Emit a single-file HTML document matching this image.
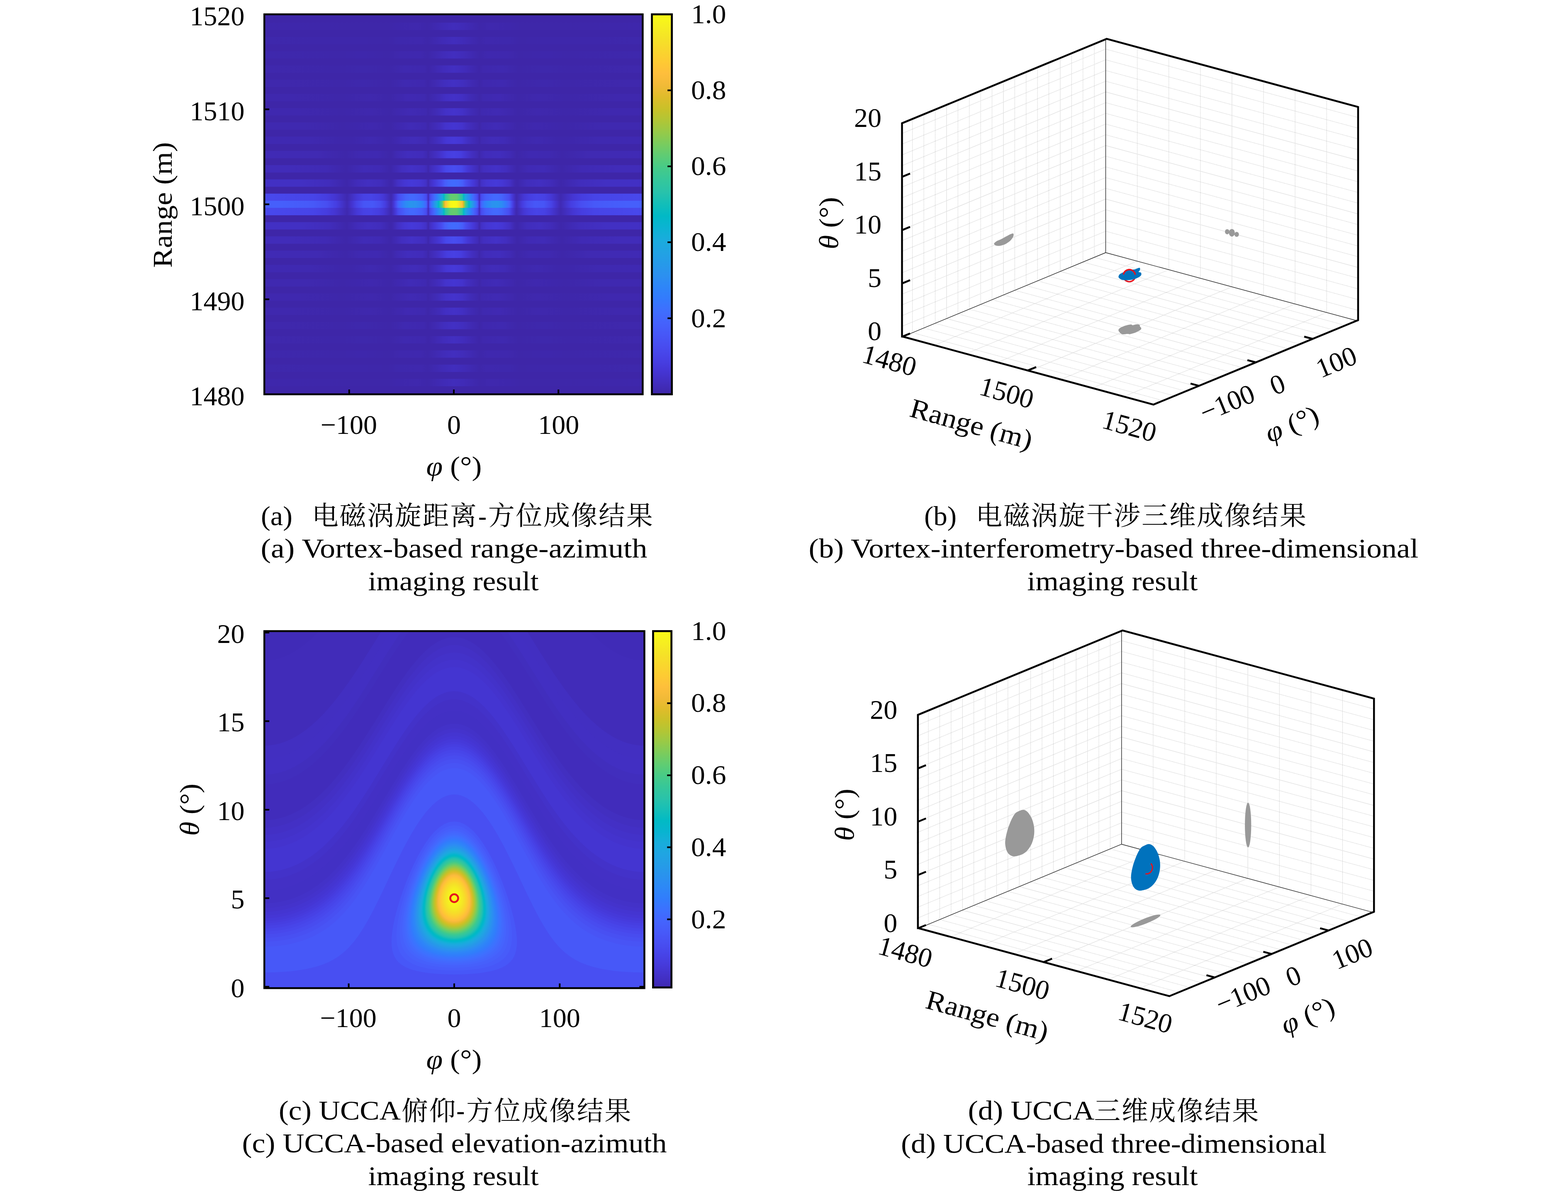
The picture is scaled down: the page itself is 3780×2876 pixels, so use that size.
<!DOCTYPE html>
<html lang="zh"><head><meta charset="utf-8"><title>Vortex and UCCA imaging results</title><style>html,body{margin:0;padding:0;background:#fff}svg{display:block}</style></head><body><svg width="3780" height="2876" viewBox="0 0 3780 2876" font-family="'Liberation Serif', serif" font-size="66" text-anchor="middle" fill="#000"><defs><clipPath id="clipa"><rect x="637.2" y="34.5" width="912.1" height="916"/></clipPath><linearGradient id="a27" gradientUnits="userSpaceOnUse" x1="1094" x2="1550.5" y1="0" y2="0" spreadMethod="reflect"><stop offset="0" stop-color="#412cba"/><stop offset="0.0552" stop-color="#402ab5"/><stop offset="0.1381" stop-color="#3e27aa"/><stop offset="0.2155" stop-color="#3f28ae"/><stop offset="0.3149" stop-color="#3e27aa"/><stop offset="0.8315" stop-color="#3e27ab"/><stop offset="1" stop-color="#3e27ac"/></linearGradient><linearGradient id="a25" gradientUnits="userSpaceOnUse" x1="1094" x2="1550.5" y1="0" y2="0" spreadMethod="reflect"><stop offset="0" stop-color="#412dbb"/><stop offset="0.0497" stop-color="#402bb7"/><stop offset="0.1381" stop-color="#3e27aa"/><stop offset="0.1934" stop-color="#3f28ae"/><stop offset="0.2983" stop-color="#3e27ac"/><stop offset="0.3481" stop-color="#3e27a9"/><stop offset="0.5387" stop-color="#3e27a9"/><stop offset="1" stop-color="#3e27ac"/></linearGradient><linearGradient id="a23" gradientUnits="userSpaceOnUse" x1="1094" x2="1550.5" y1="0" y2="0" spreadMethod="reflect"><stop offset="0" stop-color="#412dbd"/><stop offset="0.0552" stop-color="#402bb7"/><stop offset="0.1381" stop-color="#3e27aa"/><stop offset="0.1713" stop-color="#3f28ae"/><stop offset="0.2928" stop-color="#3e28ad"/><stop offset="0.3481" stop-color="#3e27a9"/><stop offset="0.4807" stop-color="#3e27ab"/><stop offset="0.7044" stop-color="#3e27ab"/><stop offset="1" stop-color="#3e28ac"/></linearGradient><linearGradient id="a21" gradientUnits="userSpaceOnUse" x1="1094" x2="1550.5" y1="0" y2="0" spreadMethod="reflect"><stop offset="0" stop-color="#422ebf"/><stop offset="0.0525" stop-color="#412cb9"/><stop offset="0.1381" stop-color="#3e27aa"/><stop offset="0.1796" stop-color="#3f28af"/><stop offset="0.2818" stop-color="#3f28ae"/><stop offset="0.3453" stop-color="#3e27a9"/><stop offset="0.4862" stop-color="#3e27ac"/><stop offset="0.6022" stop-color="#3e27aa"/><stop offset="1" stop-color="#3e28ad"/></linearGradient><linearGradient id="a19" gradientUnits="userSpaceOnUse" x1="1094" x2="1550.5" y1="0" y2="0" spreadMethod="reflect"><stop offset="0" stop-color="#422fc1"/><stop offset="0.0525" stop-color="#412cbb"/><stop offset="0.1354" stop-color="#3e26a9"/><stop offset="0.1547" stop-color="#3f28ae"/><stop offset="0.2597" stop-color="#3f29b0"/><stop offset="0.3425" stop-color="#3e27a9"/><stop offset="0.4751" stop-color="#3e28ac"/><stop offset="0.616" stop-color="#3e27aa"/><stop offset="1" stop-color="#3f28ad"/></linearGradient><linearGradient id="a17" gradientUnits="userSpaceOnUse" x1="1094" x2="1550.5" y1="0" y2="0" spreadMethod="reflect"><stop offset="0" stop-color="#4230c4"/><stop offset="0.0497" stop-color="#412ebe"/><stop offset="0.0939" stop-color="#402ab3"/><stop offset="0.1298" stop-color="#3e27ac"/><stop offset="0.1354" stop-color="#3e26a9"/><stop offset="0.1575" stop-color="#3f28af"/><stop offset="0.2569" stop-color="#3f29b1"/><stop offset="0.3398" stop-color="#3e27a9"/><stop offset="0.4779" stop-color="#3e28ad"/><stop offset="0.5856" stop-color="#3e27aa"/><stop offset="0.9337" stop-color="#3f28ad"/><stop offset="1" stop-color="#3f28ad"/></linearGradient><linearGradient id="a15" gradientUnits="userSpaceOnUse" x1="1094" x2="1550.5" y1="0" y2="0" spreadMethod="reflect"><stop offset="0" stop-color="#4331c7"/><stop offset="0.0442" stop-color="#422fc3"/><stop offset="0.0801" stop-color="#402bb7"/><stop offset="0.1298" stop-color="#3e28ac"/><stop offset="0.1354" stop-color="#3e27a9"/><stop offset="0.1547" stop-color="#3f29b0"/><stop offset="0.2431" stop-color="#4029b3"/><stop offset="0.3398" stop-color="#3e27a9"/><stop offset="0.4448" stop-color="#3f28ae"/><stop offset="0.5884" stop-color="#3e27aa"/><stop offset="0.8812" stop-color="#3f28ae"/><stop offset="1" stop-color="#3f28ae"/></linearGradient><linearGradient id="a13" gradientUnits="userSpaceOnUse" x1="1094" x2="1550.5" y1="0" y2="0" spreadMethod="reflect"><stop offset="0" stop-color="#4433cc"/><stop offset="0.0442" stop-color="#4331c7"/><stop offset="0.0856" stop-color="#402cb8"/><stop offset="0.1298" stop-color="#3f28ad"/><stop offset="0.1354" stop-color="#3e27a9"/><stop offset="0.1464" stop-color="#3f29b0"/><stop offset="0.2293" stop-color="#402ab4"/><stop offset="0.3011" stop-color="#3f28ae"/><stop offset="0.337" stop-color="#3e27a9"/><stop offset="0.4392" stop-color="#3f28ae"/><stop offset="0.5939" stop-color="#3e27aa"/><stop offset="0.8287" stop-color="#3f28af"/><stop offset="1" stop-color="#3f28af"/></linearGradient><linearGradient id="a11" gradientUnits="userSpaceOnUse" x1="1094" x2="1550.5" y1="0" y2="0" spreadMethod="reflect"><stop offset="0" stop-color="#4435d2"/><stop offset="0.0442" stop-color="#4433cc"/><stop offset="0.0691" stop-color="#422ec0"/><stop offset="0.1298" stop-color="#3f28ae"/><stop offset="0.1354" stop-color="#3e27a9"/><stop offset="0.1492" stop-color="#3f29b2"/><stop offset="0.2265" stop-color="#402bb7"/><stop offset="0.3011" stop-color="#3f28af"/><stop offset="0.3343" stop-color="#3e27a9"/><stop offset="0.4337" stop-color="#3f28af"/><stop offset="0.5276" stop-color="#3e27ac"/><stop offset="0.5884" stop-color="#3e27aa"/><stop offset="0.7873" stop-color="#3f29b0"/><stop offset="1" stop-color="#3f29b0"/></linearGradient><linearGradient id="a9" gradientUnits="userSpaceOnUse" x1="1094" x2="1550.5" y1="0" y2="0" spreadMethod="reflect"><stop offset="0" stop-color="#4639d9"/><stop offset="0.0414" stop-color="#4536d4"/><stop offset="0.0718" stop-color="#4230c4"/><stop offset="0.1298" stop-color="#3f28af"/><stop offset="0.1354" stop-color="#3e27a9"/><stop offset="0.1464" stop-color="#402ab3"/><stop offset="0.2044" stop-color="#412cb9"/><stop offset="0.2652" stop-color="#402bb7"/><stop offset="0.3066" stop-color="#3f28af"/><stop offset="0.337" stop-color="#3e27aa"/><stop offset="0.4392" stop-color="#3f29b1"/><stop offset="0.547" stop-color="#3e27ab"/><stop offset="0.5967" stop-color="#3e27ab"/><stop offset="0.7624" stop-color="#3f29b1"/><stop offset="1" stop-color="#3f29b2"/></linearGradient><linearGradient id="a7" gradientUnits="userSpaceOnUse" x1="1094" x2="1550.5" y1="0" y2="0" spreadMethod="reflect"><stop offset="0" stop-color="#4740e3"/><stop offset="0.0359" stop-color="#463ddf"/><stop offset="0.0525" stop-color="#4538d7"/><stop offset="0.0856" stop-color="#4330c5"/><stop offset="0.1271" stop-color="#402ab3"/><stop offset="0.1354" stop-color="#3e27a9"/><stop offset="0.1409" stop-color="#3f29b2"/><stop offset="0.1657" stop-color="#412cbb"/><stop offset="0.2431" stop-color="#412dbd"/><stop offset="0.2983" stop-color="#402ab4"/><stop offset="0.3315" stop-color="#3e27a9"/><stop offset="0.4061" stop-color="#3f29b2"/><stop offset="0.5" stop-color="#3f29b1"/><stop offset="0.5718" stop-color="#3e27aa"/><stop offset="0.7238" stop-color="#402ab3"/><stop offset="1" stop-color="#402ab5"/></linearGradient><linearGradient id="a5" gradientUnits="userSpaceOnUse" x1="1094" x2="1550.5" y1="0" y2="0" spreadMethod="reflect"><stop offset="0" stop-color="#484df0"/><stop offset="0.0414" stop-color="#4747eb"/><stop offset="0.0746" stop-color="#4537d6"/><stop offset="0.1243" stop-color="#412cba"/><stop offset="0.1298" stop-color="#402ab5"/><stop offset="0.1354" stop-color="#3e27aa"/><stop offset="0.1409" stop-color="#402bb6"/><stop offset="0.1575" stop-color="#422ebf"/><stop offset="0.2238" stop-color="#4331c7"/><stop offset="0.2762" stop-color="#422ebf"/><stop offset="0.3066" stop-color="#402ab4"/><stop offset="0.3343" stop-color="#3e27aa"/><stop offset="0.395" stop-color="#402ab5"/><stop offset="0.4751" stop-color="#402bb7"/><stop offset="0.5691" stop-color="#3e27aa"/><stop offset="0.6768" stop-color="#402ab5"/><stop offset="0.8812" stop-color="#412cb9"/><stop offset="1" stop-color="#412cb9"/></linearGradient><linearGradient id="a3" gradientUnits="userSpaceOnUse" x1="1094" x2="1550.5" y1="0" y2="0" spreadMethod="reflect"><stop offset="0" stop-color="#416bfe"/><stop offset="0.0249" stop-color="#4368fd"/><stop offset="0.047" stop-color="#475dfa"/><stop offset="0.0635" stop-color="#484df0"/><stop offset="0.105" stop-color="#4537d7"/><stop offset="0.1243" stop-color="#4330c5"/><stop offset="0.1298" stop-color="#412dbc"/><stop offset="0.1354" stop-color="#3e27ab"/><stop offset="0.1381" stop-color="#402bb7"/><stop offset="0.1464" stop-color="#4331c7"/><stop offset="0.174" stop-color="#4536d3"/><stop offset="0.2238" stop-color="#4539d9"/><stop offset="0.2569" stop-color="#4536d4"/><stop offset="0.2956" stop-color="#4330c5"/><stop offset="0.3232" stop-color="#3f28af"/><stop offset="0.3343" stop-color="#3e27ac"/><stop offset="0.3867" stop-color="#412dbc"/><stop offset="0.453" stop-color="#422fc1"/><stop offset="0.5083" stop-color="#412cba"/><stop offset="0.5663" stop-color="#3e27ab"/><stop offset="0.663" stop-color="#412dbc"/><stop offset="0.8039" stop-color="#4230c3"/><stop offset="1" stop-color="#4230c4"/></linearGradient><linearGradient id="a1" gradientUnits="userSpaceOnUse" x1="1094" x2="1550.5" y1="0" y2="0" spreadMethod="reflect"><stop offset="0" stop-color="#65cd6e"/><stop offset="0.0166" stop-color="#60cd72"/><stop offset="0.0359" stop-color="#37c897"/><stop offset="0.0442" stop-color="#2cc4a6"/><stop offset="0.047" stop-color="#1fc0b2"/><stop offset="0.0497" stop-color="#0bbdbc"/><stop offset="0.0525" stop-color="#01b9c7"/><stop offset="0.0552" stop-color="#08b4d1"/><stop offset="0.058" stop-color="#16afd9"/><stop offset="0.0635" stop-color="#20a5e3"/><stop offset="0.0829" stop-color="#2e87f7"/><stop offset="0.0912" stop-color="#327bfc"/><stop offset="0.1022" stop-color="#426afe"/><stop offset="0.1188" stop-color="#4853f5"/><stop offset="0.1243" stop-color="#484aee"/><stop offset="0.1298" stop-color="#463cdf"/><stop offset="0.1326" stop-color="#4230c4"/><stop offset="0.1354" stop-color="#3f29b0"/><stop offset="0.1381" stop-color="#4435d1"/><stop offset="0.1409" stop-color="#473fe2"/><stop offset="0.1464" stop-color="#484df0"/><stop offset="0.1685" stop-color="#465dfb"/><stop offset="0.2099" stop-color="#4369fe"/><stop offset="0.232" stop-color="#4369fe"/><stop offset="0.2541" stop-color="#4563fc"/><stop offset="0.2873" stop-color="#4850f3"/><stop offset="0.2956" stop-color="#4849ed"/><stop offset="0.3066" stop-color="#463adb"/><stop offset="0.326" stop-color="#402bb8"/><stop offset="0.3315" stop-color="#3f29b0"/><stop offset="0.3702" stop-color="#4537d5"/><stop offset="0.3978" stop-color="#463ee1"/><stop offset="0.4365" stop-color="#4743e7"/><stop offset="0.4779" stop-color="#4741e4"/><stop offset="0.511" stop-color="#4538d7"/><stop offset="0.5635" stop-color="#3f29b0"/><stop offset="0.6298" stop-color="#4536d3"/><stop offset="0.674" stop-color="#463de0"/><stop offset="0.7431" stop-color="#4744e8"/><stop offset="0.9751" stop-color="#4848ec"/><stop offset="1" stop-color="#4848ec"/></linearGradient><linearGradient id="a0" gradientUnits="userSpaceOnUse" x1="1094" x2="1550.5" y1="0" y2="0" spreadMethod="reflect"><stop offset="0" stop-color="#f9fb15"/><stop offset="0.0166" stop-color="#f8f719"/><stop offset="0.0276" stop-color="#f5e526"/><stop offset="0.0442" stop-color="#fec13a"/><stop offset="0.047" stop-color="#f1ba37"/><stop offset="0.0497" stop-color="#d9be28"/><stop offset="0.0525" stop-color="#bdc42f"/><stop offset="0.0552" stop-color="#9cc944"/><stop offset="0.0608" stop-color="#58cc79"/><stop offset="0.0635" stop-color="#46cb88"/><stop offset="0.0691" stop-color="#30c5a1"/><stop offset="0.0746" stop-color="#1ac0b5"/><stop offset="0.0773" stop-color="#0abdbd"/><stop offset="0.0801" stop-color="#01b9c6"/><stop offset="0.0829" stop-color="#05b6ce"/><stop offset="0.0884" stop-color="#17aeda"/><stop offset="0.0994" stop-color="#269ae8"/><stop offset="0.1133" stop-color="#317efb"/><stop offset="0.1215" stop-color="#416bfe"/><stop offset="0.1271" stop-color="#4757f7"/><stop offset="0.1298" stop-color="#484cf0"/><stop offset="0.1326" stop-color="#4536d3"/><stop offset="0.1354" stop-color="#402ab4"/><stop offset="0.1381" stop-color="#473fe3"/><stop offset="0.1409" stop-color="#4851f3"/><stop offset="0.1464" stop-color="#4367fd"/><stop offset="0.1602" stop-color="#347afd"/><stop offset="0.1713" stop-color="#2e84f8"/><stop offset="0.2044" stop-color="#2b92ef"/><stop offset="0.2293" stop-color="#2994ed"/><stop offset="0.2541" stop-color="#2d8bf4"/><stop offset="0.2735" stop-color="#347afd"/><stop offset="0.2901" stop-color="#4269fe"/><stop offset="0.2956" stop-color="#4661fc"/><stop offset="0.3066" stop-color="#4849ed"/><stop offset="0.3177" stop-color="#4536d5"/><stop offset="0.3232" stop-color="#4331c6"/><stop offset="0.3315" stop-color="#402ab4"/><stop offset="0.3619" stop-color="#463de0"/><stop offset="0.3867" stop-color="#484cef"/><stop offset="0.4282" stop-color="#4757f7"/><stop offset="0.4751" stop-color="#4755f6"/><stop offset="0.5138" stop-color="#4743e7"/><stop offset="0.5387" stop-color="#4434d0"/><stop offset="0.5635" stop-color="#402ab4"/><stop offset="0.6188" stop-color="#463ee1"/><stop offset="0.6713" stop-color="#484ef1"/><stop offset="0.7431" stop-color="#4759f8"/><stop offset="0.9088" stop-color="#465ffb"/><stop offset="1" stop-color="#465ffb"/></linearGradient><linearGradient id="cba" x1="0" y1="0" x2="0" y2="1"><stop offset="0" stop-color="#f9fb15"/><stop offset="0.0312" stop-color="#f6ef20"/><stop offset="0.0625" stop-color="#f5e327"/><stop offset="0.0938" stop-color="#f9d62d"/><stop offset="0.125" stop-color="#feca33"/><stop offset="0.1562" stop-color="#febe3c"/><stop offset="0.1875" stop-color="#f1ba37"/><stop offset="0.2188" stop-color="#debc2a"/><stop offset="0.25" stop-color="#c8c129"/><stop offset="0.2812" stop-color="#afc637"/><stop offset="0.3125" stop-color="#94ca4a"/><stop offset="0.3438" stop-color="#77cc60"/><stop offset="0.375" stop-color="#5ccc76"/><stop offset="0.4062" stop-color="#44ca8a"/><stop offset="0.4375" stop-color="#34c79c"/><stop offset="0.4688" stop-color="#28c2ab"/><stop offset="0.5" stop-color="#12beb9"/><stop offset="0.5312" stop-color="#01b9c6"/><stop offset="0.5625" stop-color="#0cb3d3"/><stop offset="0.5938" stop-color="#1aacdd"/><stop offset="0.625" stop-color="#21a3e3"/><stop offset="0.6562" stop-color="#269ae9"/><stop offset="0.6875" stop-color="#2c90f0"/><stop offset="0.7188" stop-color="#2e85f8"/><stop offset="0.75" stop-color="#347afd"/><stop offset="0.7812" stop-color="#3f6efe"/><stop offset="0.8125" stop-color="#4562fc"/><stop offset="0.8438" stop-color="#4757f7"/><stop offset="0.875" stop-color="#484cef"/><stop offset="0.9062" stop-color="#4741e5"/><stop offset="0.9375" stop-color="#4536d5"/><stop offset="0.9688" stop-color="#422ebf"/><stop offset="1" stop-color="#3e26a8"/></linearGradient><clipPath id="clipc"><rect x="637.2" y="1521.5" width="916.2" height="860.7"/></clipPath><linearGradient id="cbc" x1="0" y1="0" x2="0" y2="1"><stop offset="0" stop-color="#f9fb15"/><stop offset="0.0312" stop-color="#f6ef20"/><stop offset="0.0625" stop-color="#f5e327"/><stop offset="0.0938" stop-color="#f9d72d"/><stop offset="0.125" stop-color="#fdcb33"/><stop offset="0.1562" stop-color="#febf3b"/><stop offset="0.1875" stop-color="#f2ba38"/><stop offset="0.2188" stop-color="#e0bc2a"/><stop offset="0.25" stop-color="#cac129"/><stop offset="0.2812" stop-color="#b2c635"/><stop offset="0.3125" stop-color="#97ca48"/><stop offset="0.3438" stop-color="#7acc5d"/><stop offset="0.375" stop-color="#5fcd73"/><stop offset="0.4062" stop-color="#47cb87"/><stop offset="0.4375" stop-color="#36c799"/><stop offset="0.4688" stop-color="#2ac3a9"/><stop offset="0.5" stop-color="#17bfb7"/><stop offset="0.5312" stop-color="#02bac4"/><stop offset="0.5625" stop-color="#08b4d0"/><stop offset="0.5938" stop-color="#18addb"/><stop offset="0.625" stop-color="#20a5e2"/><stop offset="0.6562" stop-color="#259ce7"/><stop offset="0.6875" stop-color="#2a92ee"/><stop offset="0.7188" stop-color="#2d88f6"/><stop offset="0.75" stop-color="#317dfc"/><stop offset="0.7812" stop-color="#3c71ff"/><stop offset="0.8125" stop-color="#4465fd"/><stop offset="0.8438" stop-color="#475af9"/><stop offset="0.875" stop-color="#484ff2"/><stop offset="0.9062" stop-color="#4744e8"/><stop offset="0.9375" stop-color="#463ada"/><stop offset="0.9688" stop-color="#4331c7"/><stop offset="1" stop-color="#3f29b1"/></linearGradient></defs>
<g clip-path="url(#clipa)">
<rect x="637.2" y="34.5" width="912.1" height="916" fill="#3e26a8"/>
<rect x="637.2" y="20.24" width="912.1" height="17.77" fill="url(#a27)"/>
<rect x="637.2" y="54.59" width="912.1" height="17.77" fill="url(#a25)"/>
<rect x="637.2" y="88.94" width="912.1" height="17.77" fill="url(#a23)"/>
<rect x="637.2" y="123.29" width="912.1" height="17.77" fill="url(#a21)"/>
<rect x="637.2" y="157.64" width="912.1" height="17.77" fill="url(#a19)"/>
<rect x="637.2" y="191.99" width="912.1" height="17.77" fill="url(#a17)"/>
<rect x="637.2" y="226.34" width="912.1" height="17.77" fill="url(#a15)"/>
<rect x="637.2" y="260.69" width="912.1" height="17.77" fill="url(#a13)"/>
<rect x="637.2" y="295.04" width="912.1" height="17.77" fill="url(#a11)"/>
<rect x="637.2" y="329.39" width="912.1" height="17.77" fill="url(#a9)"/>
<rect x="637.2" y="363.74" width="912.1" height="17.77" fill="url(#a7)"/>
<rect x="637.2" y="398.09" width="912.1" height="17.77" fill="url(#a5)"/>
<rect x="637.2" y="432.44" width="912.1" height="17.77" fill="url(#a3)"/>
<rect x="637.2" y="466.79" width="912.1" height="17.77" fill="url(#a1)"/>
<rect x="637.2" y="483.96" width="912.1" height="17.77" fill="url(#a0)"/>
<rect x="637.2" y="501.14" width="912.1" height="17.77" fill="url(#a1)"/>
<rect x="637.2" y="535.49" width="912.1" height="17.77" fill="url(#a3)"/>
<rect x="637.2" y="569.84" width="912.1" height="17.77" fill="url(#a5)"/>
<rect x="637.2" y="604.19" width="912.1" height="17.77" fill="url(#a7)"/>
<rect x="637.2" y="638.54" width="912.1" height="17.77" fill="url(#a9)"/>
<rect x="637.2" y="672.89" width="912.1" height="17.77" fill="url(#a11)"/>
<rect x="637.2" y="707.24" width="912.1" height="17.77" fill="url(#a13)"/>
<rect x="637.2" y="741.59" width="912.1" height="17.77" fill="url(#a15)"/>
<rect x="637.2" y="775.94" width="912.1" height="17.77" fill="url(#a17)"/>
<rect x="637.2" y="810.29" width="912.1" height="17.77" fill="url(#a19)"/>
<rect x="637.2" y="844.64" width="912.1" height="17.77" fill="url(#a21)"/>
<rect x="637.2" y="878.99" width="912.1" height="17.77" fill="url(#a23)"/>
<rect x="637.2" y="913.34" width="912.1" height="17.77" fill="url(#a25)"/>
<rect x="637.2" y="947.69" width="912.1" height="17.77" fill="url(#a27)"/>
</g>
<rect x="637.25" y="34.55" width="912.1" height="916" fill="none" stroke="#000" stroke-width="4.5"/>
<path d="M841.8 950.5v-11.5M1094 950.5v-11.5M1346.2 950.5v-11.5M637.2 721.5h12M637.2 492.5h12M637.2 263.5h12" stroke="#000" stroke-width="4" fill="none"/>
<text x="589.5" y="976.5" text-anchor="end">1480</text>
<text x="589.5" y="747.5" text-anchor="end">1490</text>
<text x="589.5" y="518.5" text-anchor="end">1500</text>
<text x="589.5" y="289.5" text-anchor="end">1510</text>
<text x="589.5" y="60.5" text-anchor="end">1520</text>
<text x="840.8" y="1046">−100</text>
<text x="1094.5" y="1046">0</text>
<text x="1346.7" y="1046">100</text>
<text x="413.8" y="494" transform="rotate(-90 413.8 494)" textLength="303" lengthAdjust="spacingAndGlyphs">Range (m)</text>
<text x="1094.5" y="1146" textLength="134" lengthAdjust="spacingAndGlyphs"><tspan font-style="italic">φ</tspan> (°)</text>
<rect x="1571.55" y="34.55" width="48.1" height="916" fill="url(#cba)" stroke="#000" stroke-width="4.7"/>
<text x="1666" y="788.5" textLength="84.5" lengthAdjust="spacingAndGlyphs" text-anchor="start">0.2</text>
<text x="1666" y="605.3" textLength="84.5" lengthAdjust="spacingAndGlyphs" text-anchor="start">0.4</text>
<text x="1666" y="422.1" textLength="84.5" lengthAdjust="spacingAndGlyphs" text-anchor="start">0.6</text>
<text x="1666" y="238.9" textLength="84.5" lengthAdjust="spacingAndGlyphs" text-anchor="start">0.8</text>
<text x="1666" y="55.7" textLength="84.5" lengthAdjust="spacingAndGlyphs" text-anchor="start">1.0</text>
<path d="M1619.7 767.3h-10.5M1619.7 584.1h-10.5M1619.7 400.9h-10.5M1619.7 217.7h-10.5" stroke="#000" stroke-width="4" fill="none"/>
<g clip-path="url(#clipc)">
<rect x="637.2" y="1521.5" width="916.2" height="860.7" fill="#402bb7"/>
<g id="hc"><path fill="#402bb7" d="M1095 1021L1102.6 1021.4L1110.3 1022.7L1117.9 1024.7L1125.5 1027.6L1133.2 1031.2L1140.8 1035.7L1148.4 1040.8L1156 1046.8L1163.7 1053.4L1171.3 1060.7L1178.9 1068.6L1186.6 1077.2L1194.2 1086.3L1201.8 1095.9L1209.5 1106.1L1217.1 1116.7L1224.7 1127.7L1232.3 1139.1L1240 1150.8L1247.6 1162.8L1260.3 1183.2L1273 1204.2L1285.8 1225.3L1298.5 1246.6L1311.2 1267.7L1323.9 1288.5L1336.6 1308.9L1349.3 1328.6L1362.1 1347.7L1374.8 1365.9L1387.5 1383.2L1400.2 1399.5L1412.9 1414.7L1425.7 1428.7L1438.4 1441.5L1451.1 1453L1463.8 1463.3L1476.5 1472.2L1489.2 1479.8L1502 1486L1514.7 1490.9L1527.4 1494.3L1540.1 1496.4L1552.8 1497.1L1556.6 1497.1V2384.2H1095z"/><path fill="#412cb9" d="M1095 1125.2L1102.6 1125.6L1110.3 1126.8L1117.9 1128.8L1125.5 1131.7L1133.2 1135.3L1140.8 1139.7L1148.4 1144.8L1156 1150.6L1163.7 1157.2L1171.3 1164.4L1178.9 1172.3L1186.6 1180.7L1194.2 1189.8L1201.8 1199.3L1209.5 1209.3L1217.1 1219.8L1224.7 1230.7L1232.3 1241.9L1240 1253.5L1247.6 1265.3L1260.3 1285.5L1273 1306.1L1285.8 1327L1298.5 1347.9L1311.2 1368.6L1323.9 1389.1L1336.6 1409.1L1349.3 1428.5L1362.1 1447.1L1374.8 1464.9L1387.5 1481.8L1400.2 1497.7L1412.9 1512.4L1425.7 1526L1438.4 1538.5L1451.1 1549.7L1463.8 1559.6L1476.5 1568.2L1489.2 1575.5L1502 1581.6L1514.7 1586.2L1527.4 1589.6L1540.1 1591.6L1552.8 1592.3L1556.6 1592.2V2384.2H1095z"/><path fill="#422fc1" d="M1095 1346.2L1102.6 1346.6L1110.3 1347.8L1117.9 1349.8L1125.5 1352.7L1133.2 1356.3L1140.8 1360.6L1148.4 1365.8L1156 1371.6L1163.7 1378.1L1171.3 1385.3L1178.9 1393.1L1186.6 1401.5L1194.2 1410.5L1201.8 1420L1209.5 1430L1217.1 1440.4L1224.7 1451.1L1232.3 1462.3L1240 1473.7L1247.6 1485.4L1260.3 1505.3L1273 1525.5L1285.8 1546L1298.5 1566.4L1311.2 1586.6L1323.9 1606.4L1336.6 1625.7L1349.3 1644.3L1362.1 1662.1L1374.8 1679.1L1387.5 1695.1L1400.2 1710L1412.9 1723.9L1425.7 1736.6L1438.4 1748.1L1451.1 1758.5L1463.8 1767.6L1476.5 1775.6L1489.2 1782.3L1502 1787.8L1514.7 1792.1L1527.4 1795.1L1540.1 1796.9L1552.8 1797.5L1556.6 1797.5V2384.2H1095z"/><path fill="#422fc2" d="M1095 1380.7L1102.6 1381.1L1110.3 1382.4L1117.9 1384.4L1125.5 1387.2L1133.2 1390.8L1140.8 1395.2L1148.4 1400.3L1156 1406.2L1163.7 1412.7L1171.3 1419.9L1178.9 1427.8L1186.6 1436.2L1194.2 1445.2L1201.8 1454.7L1209.5 1464.7L1217.1 1475.1L1224.7 1485.9L1232.3 1497L1240 1508.4L1247.6 1520.1L1260.3 1540L1273 1560.3L1285.8 1580.7L1298.5 1601L1311.2 1621.1L1323.9 1640.9L1336.6 1660.1L1349.3 1678.6L1362.1 1696.3L1374.8 1713.1L1387.5 1728.9L1400.2 1743.7L1412.9 1757.4L1425.7 1770L1438.4 1781.4L1451.1 1791.6L1463.8 1800.6L1476.5 1808.4L1489.2 1815L1502 1820.4L1514.7 1824.6L1527.4 1827.6L1540.1 1829.4L1552.8 1830L1556.6 1829.9V2384.2H1095z"/><path fill="#412ebd" d="M1095 1420.6L1102.6 1421L1110.3 1422.2L1117.9 1424.3L1125.5 1427.1L1133.2 1430.7L1140.8 1435.1L1148.4 1440.3L1156 1446.1L1163.7 1452.7L1171.3 1459.9L1178.9 1467.8L1186.6 1476.3L1194.2 1485.3L1201.8 1494.8L1209.5 1504.8L1217.1 1515.3L1224.7 1526.1L1232.3 1537.2L1240 1548.7L1247.6 1560.4L1260.3 1580.3L1273 1600.5L1285.8 1620.9L1298.5 1641.2L1311.2 1661.3L1323.9 1680.9L1336.6 1700L1349.3 1718.4L1362.1 1736L1374.8 1752.6L1387.5 1768.3L1400.2 1782.9L1412.9 1796.4L1425.7 1808.8L1438.4 1820L1451.1 1830L1463.8 1838.8L1476.5 1846.5L1489.2 1853L1502 1858.2L1514.7 1862.3L1527.4 1865.3L1540.1 1867L1552.8 1867.6L1556.6 1867.5V2384.2H1095z"/><path fill="#412cbb" d="M1095 1445.5L1102.6 1445.9L1110.3 1447.1L1117.9 1449.2L1125.5 1452L1133.2 1455.7L1140.8 1460.1L1148.4 1465.2L1156 1471.1L1163.7 1477.7L1171.3 1485L1178.9 1492.8L1186.6 1501.3L1194.2 1510.4L1201.8 1519.9L1209.5 1530L1217.1 1540.4L1224.7 1551.3L1232.3 1562.4L1240 1573.9L1247.6 1585.6L1260.3 1605.5L1273 1625.8L1285.8 1646.2L1298.5 1666.5L1311.2 1686.5L1323.9 1706.1L1336.6 1725.1L1349.3 1743.4L1362.1 1760.9L1374.8 1777.4L1387.5 1793L1400.2 1807.5L1412.9 1820.8L1425.7 1833.1L1438.4 1844.2L1451.1 1854.1L1463.8 1862.8L1476.5 1870.3L1489.2 1876.7L1502 1881.9L1514.7 1886L1527.4 1888.8L1540.1 1890.6L1552.8 1891.1L1556.6 1891.1V2384.2H1095z"/><path fill="#422fc0" d="M1095 1535.9L1102.6 1536.3L1110.3 1537.6L1117.9 1539.7L1125.5 1542.6L1133.2 1546.3L1140.8 1550.8L1148.4 1556L1156 1562L1163.7 1568.7L1171.3 1576.1L1178.9 1584.1L1186.6 1592.7L1194.2 1601.9L1201.8 1611.6L1209.5 1621.7L1217.1 1632.3L1224.7 1643.3L1232.3 1654.6L1240 1666.2L1247.6 1678L1260.3 1698.1L1273 1718.4L1285.8 1738.9L1298.5 1759.1L1311.2 1779.1L1323.9 1798.5L1336.6 1817.3L1349.3 1835.3L1362.1 1852.5L1374.8 1868.6L1387.5 1883.7L1400.2 1897.7L1412.9 1910.5L1425.7 1922.3L1438.4 1932.8L1451.1 1942.2L1463.8 1950.5L1476.5 1957.6L1489.2 1963.6L1502 1968.5L1514.7 1972.3L1527.4 1975L1540.1 1976.6L1552.8 1977.1L1556.6 1977.1V2384.2H1095z"/><path fill="#4330c5" d="M1095 1554.9L1102.6 1555.4L1110.3 1556.6L1117.9 1558.7L1125.5 1561.6L1133.2 1565.3L1140.8 1569.9L1148.4 1575.1L1156 1581.2L1163.7 1587.9L1171.3 1595.3L1178.9 1603.3L1186.6 1612L1194.2 1621.2L1201.8 1630.9L1209.5 1641.2L1217.1 1651.8L1224.7 1662.8L1232.3 1674.2L1240 1685.8L1247.6 1697.6L1260.3 1717.8L1273 1738.1L1285.8 1758.6L1298.5 1778.9L1311.2 1798.8L1323.9 1818.2L1336.6 1837L1349.3 1854.9L1362.1 1872L1374.8 1888L1387.5 1903L1400.2 1916.9L1412.9 1929.6L1425.7 1941.2L1438.4 1951.6L1451.1 1960.9L1463.8 1969.1L1476.5 1976.1L1489.2 1982L1502 1986.8L1514.7 1990.5L1527.4 1993.2L1540.1 1994.7L1552.8 1995.3L1556.6 1995.2V2384.2H1095z"/><path fill="#4332c9" d="M1095 1573L1102.6 1573.4L1110.3 1574.7L1117.9 1576.8L1125.5 1579.7L1133.2 1583.5L1140.8 1588L1148.4 1593.3L1156 1599.4L1163.7 1606.1L1171.3 1613.6L1178.9 1621.7L1186.6 1630.3L1194.2 1639.6L1201.8 1649.4L1209.5 1659.6L1217.1 1670.3L1224.7 1681.4L1232.3 1692.8L1240 1704.4L1247.6 1716.3L1260.3 1736.5L1273 1756.9L1285.8 1777.4L1298.5 1797.7L1311.2 1817.7L1323.9 1837L1336.6 1855.7L1349.3 1873.6L1362.1 1890.6L1374.8 1906.5L1387.5 1921.4L1400.2 1935.2L1412.9 1947.8L1425.7 1959.3L1438.4 1969.6L1451.1 1978.7L1463.8 1986.8L1476.5 1993.7L1489.2 1999.5L1502 2004.2L1514.7 2007.9L1527.4 2010.5L1540.1 2012L1552.8 2012.5L1556.6 2012.5V2384.2H1095z"/><path fill="#4433cd" d="M1095 1590.1L1102.6 1590.6L1110.3 1591.8L1117.9 1593.9L1125.5 1596.9L1133.2 1600.7L1140.8 1605.2L1148.4 1610.5L1156 1616.6L1163.7 1623.4L1171.3 1630.9L1178.9 1639L1186.6 1647.8L1194.2 1657.1L1201.8 1666.9L1209.5 1677.2L1217.1 1687.9L1224.7 1699L1232.3 1710.5L1240 1722.2L1247.6 1734.1L1260.3 1754.3L1273 1774.8L1285.8 1795.3L1298.5 1815.7L1311.2 1835.6L1323.9 1855L1336.6 1873.6L1349.3 1891.4L1362.1 1908.3L1374.8 1924.2L1387.5 1938.9L1400.2 1952.6L1412.9 1965.1L1425.7 1976.4L1438.4 1986.6L1451.1 1995.7L1463.8 2003.6L1476.5 2010.4L1489.2 2016.1L1502 2020.8L1514.7 2024.4L1527.4 2026.9L1540.1 2028.4L1552.8 2028.9L1556.6 2028.9V2384.2H1095z"/><path fill="#4435d1" d="M1095 1608.1L1102.6 1608.5L1110.3 1609.8L1117.9 1612L1125.5 1614.9L1133.2 1618.7L1140.8 1623.3L1148.4 1628.7L1156 1634.8L1163.7 1641.6L1171.3 1649.1L1178.9 1657.3L1186.6 1666.1L1194.2 1675.5L1201.8 1685.3L1209.5 1695.7L1217.1 1706.5L1224.7 1717.6L1232.3 1729.1L1240 1740.9L1247.6 1752.8L1260.3 1773.2L1273 1793.7L1285.8 1814.3L1298.5 1834.6L1311.2 1854.5L1323.9 1873.9L1336.6 1892.5L1349.3 1910.3L1362.1 1927.1L1374.8 1942.8L1387.5 1957.5L1400.2 1971L1412.9 1983.3L1425.7 1994.5L1438.4 2004.6L1451.1 2013.5L1463.8 2021.3L1476.5 2028L1489.2 2033.6L1502 2038.2L1514.7 2041.7L1527.4 2044.2L1540.1 2045.7L1552.8 2046.2L1556.6 2046.1V2384.2H1095z"/><path fill="#4332c9" d="M1095 1666.3L1102.6 1666.7L1110.3 1668L1117.9 1670.2L1125.5 1673.2L1133.2 1677.1L1140.8 1681.8L1148.4 1687.3L1156 1693.6L1163.7 1700.6L1171.3 1708.3L1178.9 1716.6L1186.6 1725.6L1194.2 1735.2L1201.8 1745.3L1209.5 1755.9L1217.1 1766.9L1224.7 1778.2L1232.3 1789.9L1240 1801.9L1247.6 1814.1L1260.3 1834.7L1273 1855.5L1285.8 1876.3L1298.5 1896.7L1311.2 1916.7L1323.9 1936L1336.6 1954.5L1349.3 1972L1362.1 1988.5L1374.8 2003.9L1387.5 2018.1L1400.2 2031.1L1412.9 2043L1425.7 2053.7L1438.4 2063.2L1451.1 2071.6L1463.8 2078.9L1476.5 2085.2L1489.2 2090.4L1502 2094.7L1514.7 2098L1527.4 2100.3L1540.1 2101.7L1552.8 2102.1L1556.6 2102.1V2384.2H1095z"/><path fill="#4330c5" d="M1095 1685.9L1102.6 1686.3L1110.3 1687.6L1117.9 1689.8L1125.5 1692.9L1133.2 1696.8L1140.8 1701.5L1148.4 1707.1L1156 1713.4L1163.7 1720.5L1171.3 1728.3L1178.9 1736.7L1186.6 1745.8L1194.2 1755.4L1201.8 1765.6L1209.5 1776.3L1217.1 1787.4L1224.7 1798.9L1232.3 1810.6L1240 1822.7L1247.6 1835L1260.3 1855.7L1273 1876.6L1285.8 1897.5L1298.5 1918L1311.2 1938L1323.9 1957.3L1336.6 1975.7L1349.3 1993.2L1362.1 2009.5L1374.8 2024.8L1387.5 2038.8L1400.2 2051.7L1412.9 2063.3L1425.7 2073.8L1438.4 2083.1L1451.1 2091.4L1463.8 2098.5L1476.5 2104.6L1489.2 2109.7L1502 2113.8L1514.7 2117L1527.4 2119.2L1540.1 2120.6L1552.8 2121L1556.6 2121V2384.2H1095z"/><path fill="#4230c4" d="M1095 1713.4L1102.6 1713.8L1110.3 1715.2L1117.9 1717.4L1125.5 1720.5L1133.2 1724.5L1140.8 1729.3L1148.4 1734.9L1156 1741.4L1163.7 1748.5L1171.3 1756.4L1178.9 1765L1186.6 1774.2L1194.2 1784L1201.8 1794.3L1209.5 1805.1L1217.1 1816.4L1224.7 1828L1232.3 1840L1240 1852.2L1247.6 1864.6L1260.3 1885.6L1273 1906.7L1285.8 1927.7L1298.5 1948.3L1311.2 1968.4L1323.9 1987.6L1336.6 2006L1349.3 2023.3L1362.1 2039.5L1374.8 2054.5L1387.5 2068.3L1400.2 2080.8L1412.9 2092.2L1425.7 2102.4L1438.4 2111.4L1451.1 2119.3L1463.8 2126.1L1476.5 2132L1489.2 2136.8L1502 2140.8L1514.7 2143.8L1527.4 2145.9L1540.1 2147.2L1552.8 2147.6L1556.6 2147.6V2384.2H1095z"/><path fill="#4332c8" d="M1095 1744.4L1102.6 1744.8L1110.3 1746.2L1117.9 1748.5L1125.5 1751.6L1133.2 1755.7L1140.8 1760.6L1148.4 1766.3L1156 1772.9L1163.7 1780.2L1171.3 1788.3L1178.9 1797L1186.6 1806.4L1194.2 1816.4L1201.8 1826.9L1209.5 1837.9L1217.1 1849.4L1224.7 1861.2L1232.3 1873.4L1240 1885.8L1247.6 1898.4L1260.3 1919.7L1273 1941.1L1285.8 1962.3L1298.5 1983.1L1311.2 2003.2L1323.9 2022.5L1336.6 2040.8L1349.3 2057.9L1362.1 2073.9L1374.8 2088.6L1387.5 2102L1400.2 2114.2L1412.9 2125.1L1425.7 2134.9L1438.4 2143.5L1451.1 2151L1463.8 2157.5L1476.5 2163L1489.2 2167.5L1502 2171.2L1514.7 2174.1L1527.4 2176L1540.1 2177.2L1552.8 2177.6L1556.6 2177.6V2384.2H1095z"/><path fill="#4433cc" d="M1095 1755.8L1102.6 1756.3L1110.3 1757.7L1117.9 1760L1125.5 1763.2L1133.2 1767.3L1140.8 1772.2L1148.4 1778L1156 1784.6L1163.7 1792L1171.3 1800.1L1178.9 1808.9L1186.6 1818.4L1194.2 1828.4L1201.8 1839L1209.5 1850.2L1217.1 1861.7L1224.7 1873.6L1232.3 1885.9L1240 1898.4L1247.6 1911.1L1260.3 1932.5L1273 1954L1285.8 1975.3L1298.5 1996.2L1311.2 2016.4L1323.9 2035.6L1336.6 2053.9L1349.3 2071L1362.1 2086.8L1374.8 2101.4L1387.5 2114.7L1400.2 2126.7L1412.9 2137.5L1425.7 2147L1438.4 2155.5L1451.1 2162.8L1463.8 2169.1L1476.5 2174.5L1489.2 2179L1502 2182.5L1514.7 2185.3L1527.4 2187.2L1540.1 2188.4L1552.8 2188.8L1556.6 2188.7V2384.2H1095z"/><path fill="#4435d1" d="M1095 1765.5L1102.6 1766L1110.3 1767.4L1117.9 1769.7L1125.5 1772.9L1133.2 1777L1140.8 1782L1148.4 1787.9L1156 1794.5L1163.7 1801.9L1171.3 1810.1L1178.9 1819L1186.6 1828.5L1194.2 1838.7L1201.8 1849.3L1209.5 1860.5L1217.1 1872.2L1224.7 1884.2L1232.3 1896.5L1240 1909.1L1247.6 1921.9L1260.3 1943.4L1273 1965.1L1285.8 1986.5L1298.5 2007.4L1311.2 2027.6L1323.9 2046.9L1336.6 2065.1L1349.3 2082.1L1362.1 2097.9L1374.8 2112.3L1387.5 2125.5L1400.2 2137.4L1412.9 2148L1425.7 2157.4L1438.4 2165.7L1451.1 2172.9L1463.8 2179.1L1476.5 2184.3L1489.2 2188.6L1502 2192.1L1514.7 2194.8L1527.4 2196.7L1540.1 2197.8L1552.8 2198.2L1556.6 2198.2V2384.2H1095z"/><path fill="#4536d5" d="M1095 1774.4L1102.6 1774.8L1110.3 1776.2L1117.9 1778.6L1125.5 1781.8L1133.2 1785.9L1140.8 1791L1148.4 1796.8L1156 1803.5L1163.7 1811L1171.3 1819.2L1178.9 1828.2L1186.6 1837.8L1194.2 1848L1201.8 1858.7L1209.5 1870L1217.1 1881.7L1224.7 1893.8L1232.3 1906.2L1240 1918.9L1247.6 1931.8L1260.3 1953.4L1273 1975.2L1285.8 1996.6L1298.5 2017.6L1311.2 2037.9L1323.9 2057.2L1336.6 2075.4L1349.3 2092.3L1362.1 2108L1374.8 2122.4L1387.5 2135.4L1400.2 2147.1L1412.9 2157.6L1425.7 2166.8L1438.4 2174.9L1451.1 2182L1463.8 2188.1L1476.5 2193.2L1489.2 2197.4L1502 2200.8L1514.7 2203.5L1527.4 2205.3L1540.1 2206.4L1552.8 2206.8L1556.6 2206.7V2384.2H1095z"/><path fill="#4539d9" d="M1095 1781.4L1102.6 1781.9L1110.3 1783.3L1117.9 1785.6L1125.5 1788.9L1133.2 1793L1140.8 1798.1L1148.4 1804L1156 1810.7L1163.7 1818.3L1171.3 1826.5L1178.9 1835.5L1186.6 1845.2L1194.2 1855.4L1201.8 1866.3L1209.5 1877.6L1217.1 1889.4L1224.7 1901.5L1232.3 1914L1240 1926.8L1247.6 1939.7L1260.3 1961.5L1273 1983.3L1285.8 2004.9L1298.5 2025.9L1311.2 2046.2L1323.9 2065.5L1336.6 2083.6L1349.3 2100.6L1362.1 2116.2L1374.8 2130.4L1387.5 2143.3L1400.2 2154.9L1412.9 2165.3L1425.7 2174.4L1438.4 2182.4L1451.1 2189.4L1463.8 2195.3L1476.5 2200.3L1489.2 2204.5L1502 2207.8L1514.7 2210.4L1527.4 2212.2L1540.1 2213.2L1552.8 2213.6L1556.6 2213.6V2384.2H1095z"/><path fill="#463bdd" d="M1095 1788.4L1102.6 1788.9L1110.3 1790.3L1117.9 1792.7L1125.5 1796L1133.2 1800.2L1140.8 1805.2L1148.4 1811.2L1156 1817.9L1163.7 1825.5L1171.3 1833.8L1178.9 1842.9L1186.6 1852.6L1194.2 1862.9L1201.8 1873.8L1209.5 1885.2L1217.1 1897.1L1224.7 1909.3L1232.3 1921.9L1240 1934.7L1247.6 1947.7L1260.3 1969.6L1273 1991.5L1285.8 2013.1L1298.5 2034.2L1311.2 2054.5L1323.9 2073.8L1336.6 2092L1349.3 2108.9L1362.1 2124.4L1374.8 2138.6L1387.5 2151.3L1400.2 2162.8L1412.9 2173L1425.7 2182L1438.4 2189.9L1451.1 2196.7L1463.8 2202.6L1476.5 2207.5L1489.2 2211.5L1502 2214.8L1514.7 2217.3L1527.4 2219.1L1540.1 2220.1L1552.8 2220.4L1556.6 2220.4V2384.2H1095z"/><path fill="#463ee1" d="M1095 1793.7L1102.6 1794.2L1110.3 1795.6L1117.9 1798L1125.5 1801.3L1133.2 1805.5L1140.8 1810.6L1148.4 1816.6L1156 1823.4L1163.7 1831L1171.3 1839.3L1178.9 1848.4L1186.6 1858.2L1194.2 1868.6L1201.8 1879.5L1209.5 1891L1217.1 1902.9L1224.7 1915.1L1232.3 1927.8L1240 1940.6L1247.6 1953.7L1260.3 1975.7L1273 1997.7L1285.8 2019.4L1298.5 2040.5L1311.2 2060.9L1323.9 2080.2L1336.6 2098.3L1349.3 2115.1L1362.1 2130.6L1374.8 2144.7L1387.5 2157.4L1400.2 2168.8L1412.9 2178.9L1425.7 2187.8L1438.4 2195.5L1451.1 2202.2L1463.8 2208L1476.5 2212.8L1489.2 2216.8L1502 2220L1514.7 2222.5L1527.4 2224.2L1540.1 2225.2L1552.8 2225.6L1556.6 2225.6V2384.2H1095z"/><path fill="#4741e5" d="M1095 1799.9L1102.6 1800.3L1110.3 1801.8L1117.9 1804.2L1125.5 1807.5L1133.2 1811.7L1140.8 1816.8L1148.4 1822.8L1156 1829.7L1163.7 1837.3L1171.3 1845.7L1178.9 1854.9L1186.6 1864.7L1194.2 1875.1L1201.8 1886.1L1209.5 1897.7L1217.1 1909.6L1224.7 1922L1232.3 1934.7L1240 1947.6L1247.6 1960.7L1260.3 1982.8L1273 2004.9L1285.8 2026.7L1298.5 2047.9L1311.2 2068.3L1323.9 2087.6L1336.6 2105.7L1349.3 2122.5L1362.1 2137.9L1374.8 2151.9L1387.5 2164.5L1400.2 2175.7L1412.9 2185.7L1425.7 2194.5L1438.4 2202.1L1451.1 2208.7L1463.8 2214.4L1476.5 2219.1L1489.2 2223L1502 2226.2L1514.7 2228.5L1527.4 2230.2L1540.1 2231.2L1552.8 2231.6L1556.6 2231.5V2384.2H1095z"/><path fill="#4745e9" d="M1095 1806.9L1102.6 1807.4L1110.3 1808.8L1117.9 1811.2L1125.5 1814.5L1133.2 1818.8L1140.8 1824L1148.4 1830L1156 1836.9L1163.7 1844.6L1171.3 1853.1L1178.9 1862.3L1186.6 1872.1L1194.2 1882.7L1201.8 1893.7L1209.5 1905.3L1217.1 1917.4L1224.7 1929.8L1232.3 1942.6L1240 1955.6L1247.6 1968.8L1260.3 1991L1273 2013.3L1285.8 2035.2L1298.5 2056.4L1311.2 2076.9L1323.9 2096.2L1336.6 2114.3L1349.3 2131L1362.1 2146.3L1374.8 2160.2L1387.5 2172.6L1400.2 2183.7L1412.9 2193.6L1425.7 2202.2L1438.4 2209.7L1451.1 2216.1L1463.8 2221.6L1476.5 2226.3L1489.2 2230.1L1502 2233.1L1514.7 2235.5L1527.4 2237.1L1540.1 2238.1L1552.8 2238.4L1556.6 2238.4V2384.2H1095z"/><path fill="#4848ec" d="M1095 1813.9L1102.6 1814.4L1110.3 1815.8L1117.9 1818.3L1125.5 1821.6L1133.2 1825.9L1140.8 1831.1L1148.4 1837.2L1156 1844.1L1163.7 1851.9L1171.3 1860.4L1178.9 1869.7L1186.6 1879.6L1194.2 1890.2L1201.8 1901.4L1209.5 1913L1217.1 1925.2L1224.7 1937.7L1232.3 1950.6L1240 1963.7L1247.6 1977L1260.3 1999.3L1273 2021.7L1285.8 2043.7L1298.5 2065L1311.2 2085.5L1323.9 2104.9L1336.6 2122.9L1349.3 2139.6L1362.1 2154.8L1374.8 2168.5L1387.5 2180.8L1400.2 2191.8L1412.9 2201.5L1425.7 2209.9L1438.4 2217.3L1451.1 2223.6L1463.8 2229L1476.5 2233.5L1489.2 2237.2L1502 2240.1L1514.7 2242.4L1527.4 2244L1540.1 2244.9L1552.8 2245.3L1556.6 2245.2V2384.2H1095z"/><path fill="#484cef" d="M1095 1820.9L1102.6 1821.4L1110.3 1822.9L1117.9 1825.3L1125.5 1828.7L1133.2 1833L1140.8 1838.2L1148.4 1844.4L1156 1851.3L1163.7 1859.2L1171.3 1867.8L1178.9 1877.1L1186.6 1887.1L1194.2 1897.8L1201.8 1909L1209.5 1920.8L1217.1 1933L1224.7 1945.6L1232.3 1958.6L1240 1971.8L1247.6 1985.2L1260.3 2007.7L1273 2030.2L1285.8 2052.3L1298.5 2073.8L1311.2 2094.3L1323.9 2113.6L1336.6 2131.7L1349.3 2148.2L1362.1 2163.4L1374.8 2177L1387.5 2189.1L1400.2 2199.9L1412.9 2209.4L1425.7 2217.7L1438.4 2224.9L1451.1 2231L1463.8 2236.3L1476.5 2240.7L1489.2 2244.3L1502 2247.1L1514.7 2249.3L1527.4 2250.9L1540.1 2251.8L1552.8 2252.1L1556.6 2252.1V2384.2H1095z"/><path fill="#4850f2" d="M1095 1829.7L1102.6 1830.2L1110.3 1831.7L1117.9 1834.1L1125.5 1837.5L1133.2 1841.9L1140.8 1847.2L1148.4 1853.3L1156 1860.4L1163.7 1868.3L1171.3 1877L1178.9 1886.4L1186.6 1896.5L1194.2 1907.3L1201.8 1918.6L1209.5 1930.5L1217.1 1942.9L1224.7 1955.6L1232.3 1968.7L1240 1982L1247.6 1995.5L1260.3 2018.3L1273 2040.9L1285.8 2063.2L1298.5 2084.8L1311.2 2105.4L1323.9 2124.7L1336.6 2142.7L1349.3 2159.2L1362.1 2174.2L1374.8 2187.7L1387.5 2199.6L1400.2 2210.2L1412.9 2219.4L1425.7 2227.5L1438.4 2234.4L1451.1 2240.4L1463.8 2245.5L1476.5 2249.7L1489.2 2253.1L1502 2255.9L1514.7 2258L1527.4 2259.5L1540.1 2260.4L1552.8 2260.6L1556.6 2260.6V2384.2H1095z"/><path fill="#4854f5" d="M1095 1839.3L1102.6 1839.8L1110.3 1841.3L1117.9 1843.8L1125.5 1847.2L1133.2 1851.6L1140.8 1857L1148.4 1863.2L1156 1870.4L1163.7 1878.3L1171.3 1887.1L1178.9 1896.6L1186.6 1906.9L1194.2 1917.8L1201.8 1929.2L1209.5 1941.3L1217.1 1953.8L1224.7 1966.7L1232.3 1979.9L1240 1993.4L1247.6 2007.1L1260.3 2030L1273 2052.9L1285.8 2075.4L1298.5 2097.1L1311.2 2117.8L1323.9 2137.2L1336.6 2155.2L1349.3 2171.6L1362.1 2186.4L1374.8 2199.6L1387.5 2211.3L1400.2 2221.6L1412.9 2230.6L1425.7 2238.4L1438.4 2245.1L1451.1 2250.8L1463.8 2255.6L1476.5 2259.6L1489.2 2262.9L1502 2265.6L1514.7 2267.5L1527.4 2268.9L1540.1 2269.8L1552.8 2270L1556.6 2270V2384.2H1095z"/><path fill="#4758f8" d="M1095 1851.6L1102.6 1852.1L1110.3 1853.6L1117.9 1856.1L1125.5 1859.6L1133.2 1864.1L1140.8 1869.5L1148.4 1875.8L1156 1883.1L1163.7 1891.1L1171.3 1900.1L1178.9 1909.7L1186.6 1920.1L1194.2 1931.2L1201.8 1942.9L1209.5 1955.1L1217.1 1967.8L1224.7 1980.9L1232.3 1994.4L1240 2008.1L1247.6 2022L1260.3 2045.3L1273 2068.5L1285.8 2091.3L1298.5 2113.2L1311.2 2134L1323.9 2153.5L1336.6 2171.4L1349.3 2187.6L1362.1 2202.2L1374.8 2215.1L1387.5 2226.4L1400.2 2236.4L1412.9 2244.9L1425.7 2252.3L1438.4 2258.7L1451.1 2264.1L1463.8 2268.6L1476.5 2272.3L1489.2 2275.4L1502 2277.9L1514.7 2279.7L1527.4 2281L1540.1 2281.8L1552.8 2282L1556.6 2282V2384.2H1095z"/><path fill="#484ff2" d="M1095 1915.2L1102.6 1915.7L1110.3 1917.4L1117.9 1920.2L1125.5 1924L1133.2 1928.9L1140.8 1934.9L1148.4 1941.9L1156 1949.9L1163.7 1958.8L1171.3 1968.7L1178.9 1979.5L1186.6 1991.1L1194.2 2003.5L1201.8 2016.6L1209.5 2030.4L1217.1 2044.8L1224.7 2059.7L1232.3 2075L1240 2090.7L1247.6 2106.6L1260.3 2133.4L1273 2160L1285.8 2185.9L1298.5 2210.4L1311.2 2232.8L1323.9 2252.8L1336.6 2270L1349.3 2284.5L1362.1 2296.5L1374.8 2306.2L1387.5 2314L1400.2 2320.4L1412.9 2325.5L1425.7 2329.7L1438.4 2333.1L1451.1 2335.9L1463.8 2338.1L1476.5 2339.9L1489.2 2341.4L1502 2342.5L1514.7 2343.3L1527.4 2343.9L1540.1 2344.3L1552.8 2344.4L1556.6 2344.4V2384.2H1095z"/><path fill="#4757f8" d="M1095 1980.2L1106.9 1981.8L1118.7 1986.4L1130.3 1993.9L1141.7 2004.1L1152.9 2016.8L1163.6 2031.6L1174 2048.2L1183.9 2066.1L1193.2 2084.9L1201.9 2104.4L1210 2124.1L1217.3 2143.7L1223.9 2162.8L1229.7 2181.3L1234.7 2198.9L1238.8 2215.6L1242 2231.1L1244.3 2245.4L1245.7 2258.5L1246.2 2270.4L1245.7 2281.1L1244.3 2290.7L1242 2299.2L1238.8 2306.8L1234.7 2313.4L1229.7 2319.2L1223.9 2324.3L1217.3 2328.7L1210 2332.6L1201.9 2335.9L1193.2 2338.7L1183.9 2341.1L1174 2343.1L1163.6 2344.8L1152.9 2346.2L1141.7 2347.3L1130.3 2348.1L1118.7 2348.7L1106.9 2349.1L1095 2349.2z"/><path fill="#475cfa" d="M1095 1989.8L1105.9 1991.1L1116.8 1995.1L1127.5 2001.7L1138.1 2010.7L1148.3 2021.8L1158.3 2034.9L1167.8 2049.6L1176.9 2065.5L1185.5 2082.4L1193.5 2099.9L1201 2117.7L1207.7 2135.6L1213.8 2153.2L1219.2 2170.4L1223.7 2186.9L1227.5 2202.6L1230.5 2217.4L1232.6 2231.2L1233.9 2244L1234.4 2255.8L1233.9 2266.6L1232.6 2276.3L1230.5 2285.1L1227.5 2292.9L1223.7 2300L1219.2 2306.2L1213.8 2311.7L1207.7 2316.6L1201 2320.8L1193.5 2324.5L1185.5 2327.7L1176.9 2330.4L1167.8 2332.8L1158.3 2334.7L1148.3 2336.3L1138.1 2337.6L1127.5 2338.6L1116.8 2339.2L1105.9 2339.7L1095 2339.8z"/><path fill="#4660fb" d="M1095 1996.7L1105.3 1997.9L1115.6 2001.6L1125.7 2007.6L1135.7 2015.8L1145.3 2026L1154.7 2037.9L1163.7 2051.4L1172.3 2066.1L1180.4 2081.7L1188 2098L1195 2114.6L1201.4 2131.3L1207.2 2147.9L1212.2 2164.1L1216.5 2179.8L1220.1 2194.9L1222.9 2209.2L1224.9 2222.6L1226.1 2235.1L1226.6 2246.7L1226.1 2257.3L1224.9 2267L1222.9 2275.9L1220.1 2283.8L1216.5 2291L1212.2 2297.4L1207.2 2303.1L1201.4 2308.2L1195 2312.6L1188 2316.5L1180.4 2319.9L1172.3 2322.9L1163.7 2325.3L1154.7 2327.4L1145.3 2329.2L1135.7 2330.6L1125.7 2331.6L1115.6 2332.4L1105.3 2332.8L1095 2333z"/><path fill="#4564fd" d="M1095 2002.7L1105.3 2004L1115.6 2007.7L1125.7 2013.9L1135.6 2022.2L1145.3 2032.6L1154.6 2044.8L1163.4 2058.4L1171.9 2073.2L1179.7 2088.9L1187.1 2105.2L1193.7 2121.8L1199.8 2138.4L1205.1 2154.7L1209.6 2170.7L1213.4 2186.1L1216.3 2200.7L1218.4 2214.5L1219.7 2227.4L1220.1 2239.4L1219.7 2250.4L1218.4 2260.5L1216.3 2269.7L1213.4 2278L1209.6 2285.4L1205.1 2292L1199.8 2297.9L1193.7 2303.1L1187.1 2307.7L1179.7 2311.7L1171.9 2315.1L1163.4 2318L1154.6 2320.5L1145.3 2322.5L1135.6 2324.2L1125.7 2325.4L1115.6 2326.3L1105.3 2326.8L1095 2327z"/><path fill="#4368fd" d="M1095 2007L1105 2008.2L1114.9 2011.8L1124.6 2017.6L1134.2 2025.5L1143.5 2035.3L1152.5 2046.9L1161 2059.8L1169.2 2073.9L1176.8 2088.9L1183.8 2104.5L1190.3 2120.4L1196.1 2136.3L1201.2 2152.1L1205.6 2167.5L1209.2 2182.4L1212 2196.7L1214.1 2210.2L1215.3 2222.8L1215.7 2234.6L1215.3 2245.5L1214.1 2255.5L1212 2264.6L1209.2 2272.9L1205.6 2280.3L1201.2 2287L1196.1 2293L1190.3 2298.3L1183.8 2302.9L1176.8 2307L1169.2 2310.5L1161 2313.5L1152.5 2316L1143.5 2318.1L1134.2 2319.8L1124.6 2321.1L1114.9 2322L1105 2322.5L1095 2322.7z"/><path fill="#416cfe" d="M1095 2011.4L1104.6 2012.5L1114.2 2015.8L1123.6 2021.3L1132.8 2028.8L1141.8 2038.2L1150.4 2049.1L1158.7 2061.4L1166.6 2074.9L1173.9 2089.1L1180.7 2104L1186.9 2119.2L1192.5 2134.6L1197.5 2149.8L1201.7 2164.7L1205.2 2179.1L1207.9 2192.9L1209.9 2206.1L1211.1 2218.5L1211.5 2230.1L1211.1 2240.8L1209.9 2250.7L1207.9 2259.8L1205.2 2268L1201.7 2275.5L1197.5 2282.2L1192.5 2288.2L1186.9 2293.5L1180.7 2298.2L1173.9 2302.3L1166.6 2305.9L1158.7 2309L1150.4 2311.6L1141.8 2313.7L1132.8 2315.4L1123.6 2316.8L1114.2 2317.7L1104.6 2318.3L1095 2318.4z"/><path fill="#3e70ff" d="M1095 2014.8L1104.3 2015.9L1113.6 2019.1L1122.8 2024.4L1131.8 2031.5L1140.5 2040.5L1148.9 2051L1156.9 2062.8L1164.5 2075.7L1171.7 2089.5L1178.3 2103.8L1184.3 2118.5L1189.8 2133.4L1194.5 2148.1L1198.6 2162.6L1202 2176.7L1204.7 2190.2L1206.6 2203.1L1207.8 2215.2L1208.2 2226.6L1207.8 2237.2L1206.6 2247L1204.7 2256L1202 2264.2L1198.6 2271.7L1194.5 2278.4L1189.8 2284.4L1184.3 2289.8L1178.3 2294.5L1171.7 2298.7L1164.5 2302.3L1156.9 2305.4L1148.9 2308L1140.5 2310.2L1131.8 2312L1122.8 2313.3L1113.6 2314.3L1104.3 2314.8L1095 2315z"/><path fill="#3a74fe" d="M1095 2018.3L1104.1 2019.3L1113.1 2022.4L1122 2027.4L1130.7 2034.3L1139.2 2042.8L1147.3 2052.9L1155.1 2064.3L1162.5 2076.7L1169.5 2089.9L1175.9 2103.8L1181.8 2118L1187 2132.3L1191.7 2146.6L1195.7 2160.7L1199 2174.4L1201.6 2187.6L1203.4 2200.2L1204.6 2212.1L1204.9 2223.3L1204.6 2233.8L1203.4 2243.5L1201.6 2252.4L1199 2260.5L1195.7 2268L1191.7 2274.7L1187 2280.7L1181.8 2286.1L1175.9 2290.8L1169.5 2295L1162.5 2298.7L1155.1 2301.8L1147.3 2304.5L1139.2 2306.7L1130.7 2308.5L1122 2309.9L1113.1 2310.8L1104.1 2311.4L1095 2311.6z"/><path fill="#3678fd" d="M1095 2021.7L1103.8 2022.7L1112.6 2025.6L1121.2 2030.5L1129.7 2037L1137.9 2045.2L1145.8 2054.9L1153.4 2065.8L1160.6 2077.7L1167.3 2090.5L1173.6 2103.8L1179.3 2117.5L1184.4 2131.4L1188.9 2145.3L1192.8 2158.9L1196 2172.3L1198.5 2185.2L1200.3 2197.5L1201.4 2209.2L1201.8 2220.2L1201.4 2230.5L1200.3 2240.1L1198.5 2248.9L1196 2257L1192.8 2264.3L1188.9 2271L1184.4 2277.1L1179.3 2282.4L1173.6 2287.2L1167.3 2291.4L1160.6 2295.1L1153.4 2298.3L1145.8 2301L1137.9 2303.2L1129.7 2305L1121.2 2306.4L1112.6 2307.4L1103.8 2308L1095 2308.2z"/><path fill="#327cfc" d="M1095 2024.3L1104.1 2025.4L1113.1 2028.5L1122 2033.7L1130.7 2040.8L1139.1 2049.5L1147.2 2059.8L1154.9 2071.4L1162.1 2084L1168.8 2097.4L1175 2111.3L1180.5 2125.6L1185.4 2139.9L1189.6 2154L1193.1 2167.9L1195.9 2181.4L1197.8 2194.2L1199 2206.4L1199.4 2217.9L1199 2228.6L1197.8 2238.6L1195.9 2247.7L1193.1 2256L1189.6 2263.6L1185.4 2270.4L1180.5 2276.5L1175 2282L1168.8 2286.7L1162.1 2290.9L1154.9 2294.5L1147.2 2297.5L1139.1 2300.1L1130.7 2302.1L1122 2303.6L1113.1 2304.7L1104.1 2305.4L1095 2305.6z"/><path fill="#3080fa" d="M1095 2026.9L1103.9 2027.9L1112.7 2031L1121.4 2036L1129.9 2042.8L1138.2 2051.3L1146.1 2061.3L1153.6 2072.5L1160.6 2084.7L1167.2 2097.8L1173.2 2111.3L1178.7 2125.2L1183.4 2139.1L1187.6 2153L1191 2166.6L1193.6 2179.7L1195.6 2192.4L1196.7 2204.4L1197.1 2215.7L1196.7 2226.3L1195.6 2236.1L1193.6 2245.2L1191 2253.5L1187.6 2261L1183.4 2267.8L1178.7 2273.9L1173.2 2279.3L1167.2 2284.1L1160.6 2288.3L1153.6 2291.9L1146.1 2294.9L1138.2 2297.5L1129.9 2299.5L1121.4 2301.1L1112.7 2302.2L1103.9 2302.8L1095 2303.1z"/><path fill="#2e85f8" d="M1095 2030.4L1103.6 2031.3L1112.2 2034.3L1120.6 2039L1128.9 2045.6L1136.9 2053.7L1144.5 2063.3L1151.8 2074L1158.7 2085.8L1165.1 2098.3L1170.9 2111.4L1176.2 2124.8L1180.8 2138.3L1184.8 2151.7L1188.1 2164.9L1190.7 2177.7L1192.6 2190.1L1193.7 2201.8L1194.1 2212.9L1193.7 2223.3L1192.6 2233L1190.7 2241.9L1188.1 2250.1L1184.8 2257.6L1180.8 2264.3L1176.2 2270.4L1170.9 2275.8L1165.1 2280.6L1158.7 2284.7L1151.8 2288.4L1144.5 2291.4L1136.9 2294L1128.9 2296.1L1120.6 2297.6L1112.2 2298.8L1103.6 2299.4L1095 2299.6z"/><path fill="#2d8af5" d="M1095 2033.8L1103.4 2034.7L1111.7 2037.5L1119.9 2042.1L1127.9 2048.4L1135.6 2056.2L1143.1 2065.3L1150.1 2075.6L1156.8 2087L1163 2099L1168.6 2111.6L1173.7 2124.5L1178.2 2137.6L1182.1 2150.6L1185.3 2163.4L1187.8 2175.8L1189.7 2187.8L1190.8 2199.3L1191.1 2210.2L1190.8 2220.4L1189.7 2229.9L1187.8 2238.7L1185.3 2246.8L1182.1 2254.2L1178.2 2260.9L1173.7 2266.9L1168.6 2272.3L1163 2277.1L1156.8 2281.3L1150.1 2284.9L1143.1 2288L1135.6 2290.5L1127.9 2292.6L1119.9 2294.2L1111.7 2295.3L1103.4 2296L1095 2296.2z"/><path fill="#2c8ef1" d="M1095 2036.4L1103.2 2037.3L1111.3 2040L1119.3 2044.4L1127.1 2050.5L1134.7 2058L1142 2066.9L1148.9 2076.9L1155.4 2087.9L1161.4 2099.6L1166.9 2111.8L1171.9 2124.4L1176.3 2137.1L1180.1 2149.8L1183.3 2162.3L1185.7 2174.5L1187.5 2186.3L1188.6 2197.5L1188.9 2208.2L1188.6 2218.3L1187.5 2227.7L1185.7 2236.4L1183.3 2244.4L1180.1 2251.7L1176.3 2258.4L1171.9 2264.4L1166.9 2269.7L1161.4 2274.5L1155.4 2278.7L1148.9 2282.3L1142 2285.4L1134.7 2288L1127.1 2290L1119.3 2291.6L1111.3 2292.8L1103.2 2293.4L1095 2293.7z"/><path fill="#2a93ee" d="M1095 2039L1103 2039.9L1110.9 2042.5L1118.7 2046.7L1126.4 2052.6L1133.8 2059.9L1140.9 2068.5L1147.6 2078.2L1154 2088.8L1159.9 2100.2L1165.3 2112.1L1170.1 2124.3L1174.4 2136.7L1178.1 2149.1L1181.2 2161.3L1183.6 2173.2L1185.3 2184.8L1186.4 2195.8L1186.7 2206.3L1186.4 2216.2L1185.3 2225.5L1183.6 2234.1L1181.2 2242L1178.1 2249.3L1174.4 2255.9L1170.1 2261.9L1165.3 2267.2L1159.9 2271.9L1154 2276.1L1147.6 2279.7L1140.9 2282.8L1133.8 2285.4L1126.4 2287.5L1118.7 2289.1L1110.9 2290.2L1103 2290.9L1095 2291.1z"/><path fill="#2797ea" d="M1095 2041.6L1102.8 2042.4L1110.6 2044.9L1118.2 2049.1L1125.6 2054.7L1132.9 2061.8L1139.8 2070.1L1146.4 2079.5L1152.6 2089.8L1158.3 2100.8L1163.6 2112.4L1168.4 2124.3L1172.6 2136.3L1176.2 2148.4L1179.2 2160.3L1181.5 2172L1183.2 2183.3L1184.2 2194.2L1184.6 2204.5L1184.2 2214.2L1183.2 2223.3L1181.5 2231.8L1179.2 2239.7L1176.2 2246.9L1172.6 2253.4L1168.4 2259.4L1163.6 2264.7L1158.3 2269.4L1152.6 2273.6L1146.4 2277.2L1139.8 2280.2L1132.9 2282.8L1125.6 2284.9L1118.2 2286.5L1110.6 2287.6L1102.8 2288.3L1095 2288.5z"/><path fill="#259ce7" d="M1095 2044.2L1102.6 2045L1110.2 2047.4L1117.6 2051.4L1124.9 2056.9L1132 2063.7L1138.7 2071.7L1145.2 2080.8L1151.2 2090.8L1156.8 2101.5L1162 2112.7L1166.6 2124.3L1170.7 2136L1174.3 2147.8L1177.2 2159.4L1179.5 2170.9L1181.1 2181.9L1182.1 2192.6L1182.5 2202.7L1182.1 2212.3L1181.1 2221.3L1179.5 2229.6L1177.2 2237.4L1174.3 2244.5L1170.7 2251L1166.6 2256.9L1162 2262.2L1156.8 2266.9L1151.2 2271L1145.2 2274.6L1138.7 2277.7L1132 2280.3L1124.9 2282.3L1117.6 2283.9L1110.2 2285.1L1102.6 2285.7L1095 2286z"/><path fill="#23a0e5" d="M1095 2046.7L1102.9 2047.6L1110.7 2050.2L1118.4 2054.6L1125.8 2060.4L1133 2067.8L1139.9 2076.4L1146.4 2086.1L1152.5 2096.7L1158.1 2107.9L1163.1 2119.7L1167.6 2131.7L1171.4 2143.9L1174.6 2156L1177.1 2167.8L1178.9 2179.3L1180 2190.4L1180.3 2201L1180 2210.9L1178.9 2220.2L1177.1 2228.9L1174.6 2236.9L1171.4 2244.1L1167.6 2250.7L1163.1 2256.7L1158.1 2262L1152.5 2266.6L1146.4 2270.7L1139.9 2274.1L1133 2277L1125.8 2279.3L1118.4 2281.1L1110.7 2282.4L1102.9 2283.2L1095 2283.4z"/><path fill="#20a4e3" d="M1095 2048.5L1102.7 2049.3L1110.4 2051.9L1118 2056.1L1125.3 2061.9L1132.4 2069L1139.2 2077.4L1145.6 2086.9L1151.6 2097.3L1157 2108.3L1162 2119.9L1166.4 2131.7L1170.1 2143.6L1173.3 2155.5L1175.7 2167.2L1177.5 2178.5L1178.6 2189.4L1178.9 2199.8L1178.6 2209.7L1177.5 2218.9L1175.7 2227.5L1173.3 2235.4L1170.1 2242.6L1166.4 2249.1L1162 2255L1157 2260.3L1151.6 2264.9L1145.6 2269L1139.2 2272.4L1132.4 2275.3L1125.3 2277.6L1118 2279.4L1110.4 2280.7L1102.7 2281.4L1095 2281.7z"/><path fill="#1ca9df" d="M1095 2051L1102.6 2051.9L1110 2054.4L1117.4 2058.4L1124.6 2064L1131.5 2070.9L1138.1 2079L1144.3 2088.2L1150.2 2098.3L1155.5 2109L1160.3 2120.2L1164.6 2131.6L1168.3 2143.3L1171.3 2154.8L1173.7 2166.2L1175.5 2177.3L1176.5 2188L1176.9 2198.2L1176.5 2207.9L1175.5 2216.9L1173.7 2225.4L1171.3 2233.1L1168.3 2240.3L1164.6 2246.8L1160.3 2252.6L1155.5 2257.8L1150.2 2262.4L1144.3 2266.5L1138.1 2269.9L1131.5 2272.7L1124.6 2275.1L1117.4 2276.9L1110 2278.1L1102.6 2278.9L1095 2279.1z"/><path fill="#18addb" d="M1095 2053.6L1102.4 2054.4L1109.7 2056.8L1116.8 2060.7L1123.8 2066.1L1130.6 2072.8L1137 2080.7L1143.1 2089.5L1148.8 2099.3L1154 2109.6L1158.7 2120.5L1162.9 2131.7L1166.4 2142.9L1169.4 2154.2L1171.8 2165.3L1173.4 2176.2L1174.5 2186.6L1174.8 2196.6L1174.5 2206.1L1173.4 2215L1171.8 2223.3L1169.4 2231L1166.4 2238L1162.9 2244.4L1158.7 2250.2L1154 2255.4L1148.8 2260L1143.1 2263.9L1137 2267.4L1130.6 2270.2L1123.8 2272.5L1116.8 2274.3L1109.7 2275.6L1102.4 2276.3L1095 2276.6z"/><path fill="#13b0d7" d="M1095 2055.4L1102.2 2056.1L1109.4 2058.5L1116.5 2062.3L1123.3 2067.5L1130 2074.1L1136.3 2081.8L1142.3 2090.4L1147.8 2100L1153 2110.1L1157.6 2120.7L1161.7 2131.7L1165.2 2142.8L1168.1 2153.8L1170.4 2164.8L1172.1 2175.4L1173.1 2185.7L1173.4 2195.6L1173.1 2204.9L1172.1 2213.7L1170.4 2221.9L1168.1 2229.5L1165.2 2236.5L1161.7 2242.9L1157.6 2248.6L1153 2253.8L1147.8 2258.3L1142.3 2262.3L1136.3 2265.7L1130 2268.5L1123.3 2270.8L1116.5 2272.6L1109.4 2273.9L1102.2 2274.6L1095 2274.9z"/><path fill="#0eb2d4" d="M1095 2057.1L1102.1 2057.8L1109.2 2060.1L1116.1 2063.9L1122.8 2069L1129.4 2075.3L1135.6 2082.9L1141.5 2091.3L1146.9 2100.7L1152 2110.6L1156.5 2121L1160.5 2131.7L1164 2142.6L1166.9 2153.5L1169.1 2164.2L1170.8 2174.7L1171.8 2184.8L1172.1 2194.6L1171.8 2203.8L1170.8 2212.5L1169.1 2220.6L1166.9 2228.1L1164 2235.1L1160.5 2241.4L1156.5 2247.1L1152 2252.2L1146.9 2256.7L1141.5 2260.6L1135.6 2264L1129.4 2266.8L1122.8 2269.1L1116.1 2270.9L1109.2 2272.2L1102.1 2272.9L1095 2273.2z"/><path fill="#0ab4d2" d="M1095 2057.9L1102.1 2058.7L1109 2060.9L1115.9 2064.6L1122.6 2069.7L1129.1 2076L1135.2 2083.4L1141 2091.8L1146.5 2101L1151.5 2110.8L1156 2121.2L1160 2131.8L1163.4 2142.5L1166.3 2153.3L1168.5 2163.9L1170.1 2174.3L1171.1 2184.4L1171.4 2194.1L1171.1 2203.2L1170.1 2211.9L1168.5 2219.9L1166.3 2227.4L1163.4 2234.3L1160 2240.6L1156 2246.3L1151.5 2251.4L1146.5 2255.9L1141 2259.8L1135.2 2263.2L1129.1 2266L1122.6 2268.3L1115.9 2270L1109 2271.3L1102.1 2272L1095 2272.3z"/><path fill="#05b6ce" d="M1095 2058.8L1102 2059.5L1108.9 2061.8L1115.7 2065.4L1122.4 2070.4L1128.8 2076.6L1134.9 2084L1140.6 2092.3L1146 2101.4L1151 2111.1L1155.4 2121.3L1159.4 2131.8L1162.8 2142.5L1165.6 2153.1L1167.8 2163.7L1169.4 2174L1170.4 2184L1170.7 2193.6L1170.4 2202.7L1169.4 2211.3L1167.8 2219.3L1165.6 2226.7L1162.8 2233.6L1159.4 2239.8L1155.4 2245.5L1151 2250.6L1146 2255L1140.6 2259L1134.9 2262.3L1128.8 2265.1L1122.4 2267.4L1115.7 2269.2L1108.9 2270.4L1102 2271.2L1095 2271.4z"/><path fill="#01b8c9" d="M1095 2060.5L1101.9 2061.3L1108.7 2063.4L1115.4 2067L1121.9 2071.8L1128.2 2077.9L1134.2 2085.1L1139.8 2093.2L1145.1 2102.1L1150 2111.6L1154.4 2121.6L1158.3 2131.9L1161.6 2142.4L1164.4 2152.8L1166.6 2163.2L1168.1 2173.3L1169.1 2183.2L1169.4 2192.6L1169.1 2201.6L1168.1 2210.1L1166.6 2218L1164.4 2225.3L1161.6 2232.1L1158.3 2238.3L1154.4 2243.9L1150 2249L1145.1 2253.4L1139.8 2257.3L1134.2 2260.7L1128.2 2263.5L1121.9 2265.7L1115.4 2267.5L1108.7 2268.7L1101.9 2269.5L1095 2269.7z"/><path fill="#02bac3" d="M1095 2062.2L1101.7 2063L1108.4 2065.1L1115 2068.5L1121.4 2073.3L1127.6 2079.2L1133.5 2086.2L1139 2094.1L1144.2 2102.8L1149 2112.2L1153.3 2121.9L1157.1 2132L1160.4 2142.3L1163.1 2152.5L1165.3 2162.7L1166.8 2172.7L1167.8 2182.4L1168.1 2191.7L1167.8 2200.5L1166.8 2208.9L1165.3 2216.7L1163.1 2224L1160.4 2230.7L1157.1 2236.8L1153.3 2242.4L1149 2247.4L1144.2 2251.8L1139 2255.7L1133.5 2259L1127.6 2261.8L1121.4 2264L1115 2265.8L1108.4 2267L1101.7 2267.8L1095 2268z"/><path fill="#09bdbe" d="M1095 2064L1102 2064.7L1109 2067.1L1115.8 2070.9L1122.5 2076.1L1128.8 2082.6L1134.9 2090.2L1140.5 2098.7L1145.7 2108.1L1150.5 2118L1154.6 2128.4L1158.3 2139L1161.3 2149.8L1163.6 2160.4L1165.4 2170.8L1166.4 2181L1166.7 2190.7L1166.4 2200L1165.4 2208.7L1163.6 2216.8L1161.3 2224.3L1158.3 2231.2L1154.6 2237.5L1150.5 2243.1L1145.7 2248.1L1140.5 2252.4L1134.9 2256.2L1128.8 2259.3L1122.5 2261.8L1115.8 2263.8L1109 2265.2L1102 2266L1095 2266.3z"/><path fill="#11beb9" d="M1095 2065.7L1101.9 2066.5L1108.7 2068.7L1115.4 2072.4L1121.9 2077.5L1128.2 2083.8L1134.1 2091.2L1139.7 2099.6L1144.8 2108.8L1149.4 2118.5L1153.5 2128.6L1157.1 2139.1L1160.1 2149.6L1162.4 2160L1164.1 2170.3L1165.1 2180.2L1165.4 2189.8L1165.1 2198.9L1164.1 2207.5L1162.4 2215.6L1160.1 2223L1157.1 2229.8L1153.5 2236L1149.4 2241.5L1144.8 2246.5L1139.7 2250.8L1134.1 2254.5L1128.2 2257.6L1121.9 2260.2L1115.4 2262.1L1108.7 2263.5L1101.9 2264.3L1095 2264.6z"/><path fill="#17bfb7" d="M1095 2066.6L1101.8 2067.3L1108.6 2069.5L1115.2 2073.2L1121.7 2078.2L1127.9 2084.5L1133.8 2091.8L1139.3 2100.1L1144.3 2109.1L1148.9 2118.7L1153 2128.8L1156.5 2139.1L1159.4 2149.5L1161.8 2159.8L1163.4 2170L1164.4 2179.9L1164.8 2189.4L1164.4 2198.4L1163.4 2206.9L1161.8 2214.9L1159.4 2222.3L1156.5 2229.1L1153 2235.2L1148.9 2240.8L1144.3 2245.7L1139.3 2250L1133.8 2253.7L1127.9 2256.8L1121.7 2259.3L1115.2 2261.3L1108.6 2262.6L1101.8 2263.5L1095 2263.8z"/><path fill="#1cc0b4" d="M1095 2067.4L1101.8 2068.2L1108.5 2070.4L1115.1 2074L1121.4 2078.9L1127.6 2085.1L1133.4 2092.3L1138.8 2100.5L1143.9 2109.4L1148.4 2119L1152.5 2128.9L1155.9 2139.1L1158.8 2149.4L1161.1 2159.6L1162.8 2169.7L1163.8 2179.5L1164.1 2188.9L1163.8 2197.9L1162.8 2206.4L1161.1 2214.3L1158.8 2221.6L1155.9 2228.4L1152.5 2234.5L1148.4 2240L1143.9 2244.9L1138.8 2249.2L1133.4 2252.9L1127.6 2256L1121.4 2258.5L1115.1 2260.4L1108.5 2261.8L1101.8 2262.6L1095 2262.9z"/><path fill="#20c1b1" d="M1095 2068.3L1101.7 2069L1108.4 2071.2L1114.9 2074.8L1121.2 2079.6L1127.3 2085.7L1133 2092.9L1138.4 2101L1143.4 2109.8L1147.9 2119.2L1151.9 2129L1155.4 2139.1L1158.2 2149.3L1160.5 2159.4L1162.1 2169.4L1163.1 2179.1L1163.4 2188.5L1163.1 2197.4L1162.1 2205.8L1160.5 2213.7L1158.2 2221L1155.4 2227.7L1151.9 2233.8L1147.9 2239.2L1143.4 2244.1L1138.4 2248.4L1133 2252L1127.3 2255.1L1121.2 2257.6L1114.9 2259.6L1108.4 2260.9L1101.7 2261.8L1095 2262z"/><path fill="#26c2ac" d="M1095 2069.1L1101.6 2069.9L1108.2 2072L1114.7 2075.5L1120.9 2080.4L1127 2086.4L1132.7 2093.4L1138 2101.4L1142.9 2110.1L1147.4 2119.4L1151.4 2129.2L1154.8 2139.1L1157.6 2149.2L1159.9 2159.3L1161.5 2169.2L1162.5 2178.8L1162.8 2188.1L1162.5 2196.9L1161.5 2205.2L1159.9 2213.1L1157.6 2220.3L1154.8 2227L1151.4 2233L1147.4 2238.5L1142.9 2243.3L1138 2247.6L1132.7 2251.2L1127 2254.3L1120.9 2256.8L1114.7 2258.7L1108.2 2260.1L1101.6 2260.9L1095 2261.2z"/><path fill="#2dc4a6" d="M1095 2070.9L1101.5 2071.6L1108 2073.7L1114.3 2077.1L1120.4 2081.8L1126.3 2087.6L1131.9 2094.5L1137.2 2102.3L1142 2110.8L1146.4 2119.9L1150.3 2129.4L1153.6 2139.2L1156.4 2149.1L1158.6 2158.9L1160.2 2168.6L1161.2 2178.1L1161.5 2187.2L1161.2 2195.9L1160.2 2204.1L1158.6 2211.8L1156.4 2219L1153.6 2225.6L1150.3 2231.6L1146.4 2236.9L1142 2241.7L1137.2 2246L1131.9 2249.6L1126.3 2252.6L1120.4 2255.1L1114.3 2257L1108 2258.4L1101.5 2259.2L1095 2259.5z"/><path fill="#30c5a1" d="M1095 2072.6L1101.4 2073.3L1107.7 2075.3L1113.9 2078.6L1119.9 2083.2L1125.7 2088.9L1131.2 2095.7L1136.4 2103.2L1141.1 2111.6L1145.4 2120.4L1149.2 2129.7L1152.5 2139.3L1155.2 2149L1157.4 2158.6L1158.9 2168.1L1159.9 2177.4L1160.2 2186.4L1159.9 2194.9L1158.9 2203L1157.4 2210.6L1155.2 2217.7L1152.5 2224.2L1149.2 2230.1L1145.4 2235.4L1141.1 2240.2L1136.4 2244.4L1131.2 2247.9L1125.7 2251L1119.9 2253.4L1113.9 2255.3L1107.7 2256.7L1101.4 2257.5L1095 2257.8z"/><path fill="#34c79c" d="M1095 2073.4L1101.3 2074.1L1107.6 2076.1L1113.7 2079.4L1119.7 2083.9L1125.4 2089.6L1130.9 2096.2L1135.9 2103.7L1140.6 2111.9L1144.9 2120.7L1148.7 2129.9L1151.9 2139.3L1154.6 2148.9L1156.8 2158.5L1158.3 2167.9L1159.2 2177.1L1159.5 2186L1159.2 2194.5L1158.3 2202.5L1156.8 2210L1154.6 2217L1151.9 2223.5L1148.7 2229.4L1144.9 2234.7L1140.6 2239.4L1135.9 2243.6L1130.9 2247.1L1125.4 2250.1L1119.7 2252.6L1113.7 2254.5L1107.6 2255.8L1101.3 2256.6L1095 2256.9z"/><path fill="#39c895" d="M1095 2075.2L1101.2 2075.8L1107.3 2077.8L1113.4 2081L1119.2 2085.4L1124.8 2090.9L1130.1 2097.3L1135.1 2104.7L1139.7 2112.7L1143.9 2121.2L1147.6 2130.2L1150.8 2139.4L1153.4 2148.8L1155.5 2158.2L1157 2167.4L1157.9 2176.4L1158.3 2185.2L1157.9 2193.5L1157 2201.4L1155.5 2208.8L1153.4 2215.8L1150.8 2222.1L1147.6 2227.9L1143.9 2233.2L1139.7 2237.9L1135.1 2242L1130.1 2245.5L1124.8 2248.5L1119.2 2250.9L1113.4 2252.8L1107.3 2254.1L1101.2 2254.9L1095 2255.2z"/><path fill="#3eca8f" d="M1095 2076.9L1101.1 2077.5L1107.1 2079.4L1113 2082.6L1118.7 2086.8L1124.2 2092.2L1129.4 2098.5L1134.3 2105.6L1138.8 2113.4L1142.9 2121.8L1146.5 2130.5L1149.7 2139.6L1152.3 2148.7L1154.3 2157.9L1155.8 2167L1156.7 2175.8L1157 2184.4L1156.7 2192.6L1155.8 2200.4L1154.3 2207.7L1152.3 2214.5L1149.7 2220.8L1146.5 2226.5L1142.9 2231.7L1138.8 2236.3L1134.3 2240.4L1129.4 2243.9L1124.2 2246.8L1118.7 2249.2L1113 2251.1L1107.1 2252.4L1101.1 2253.2L1095 2253.5z"/><path fill="#42ca8b" d="M1095 2077.7L1101 2078.4L1107 2080.2L1112.8 2083.3L1118.5 2087.6L1123.9 2092.8L1129.1 2099L1133.9 2106.1L1138.4 2113.8L1142.4 2122.1L1146 2130.7L1149.1 2139.6L1151.7 2148.7L1153.7 2157.8L1155.1 2166.7L1156 2175.5L1156.3 2184L1156 2192.1L1155.1 2199.8L1153.7 2207.1L1151.7 2213.9L1149.1 2220.1L1146 2225.8L1142.4 2230.9L1138.4 2235.5L1133.9 2239.6L1129.1 2243.1L1123.9 2246L1118.5 2248.4L1112.8 2250.3L1107 2251.6L1101 2252.4L1095 2252.6z"/><path fill="#47cb87" d="M1095 2078.6L1100.9 2079.2L1106.8 2081.1L1112.6 2084.1L1118.2 2088.3L1123.6 2093.5L1128.7 2099.6L1133.5 2106.6L1137.9 2114.2L1141.9 2122.3L1145.5 2130.9L1148.5 2139.7L1151.1 2148.7L1153.1 2157.6L1154.5 2166.5L1155.4 2175.2L1155.7 2183.6L1155.4 2191.7L1154.5 2199.3L1153.1 2206.5L1151.1 2213.2L1148.5 2219.4L1145.5 2225.1L1141.9 2230.2L1137.9 2234.8L1133.5 2238.8L1128.7 2242.3L1123.6 2245.2L1118.2 2247.6L1112.6 2249.4L1106.8 2250.7L1100.9 2251.5L1095 2251.8z"/><path fill="#4ccb83" d="M1095 2079.5L1100.9 2080.1L1106.7 2081.9L1112.4 2084.9L1118 2089L1123.3 2094.1L1128.4 2100.2L1133.1 2107L1137.5 2114.6L1141.4 2122.6L1144.9 2131.1L1148 2139.8L1150.5 2148.7L1152.5 2157.5L1153.9 2166.3L1154.8 2174.9L1155.1 2183.2L1154.8 2191.2L1153.9 2198.8L1152.5 2205.9L1150.5 2212.6L1148 2218.7L1144.9 2224.4L1141.4 2229.5L1137.5 2234L1133.1 2238L1128.4 2241.4L1123.3 2244.4L1118 2246.7L1112.4 2248.6L1106.7 2249.9L1100.9 2250.7L1095 2250.9z"/><path fill="#51cc7f" d="M1095 2080.3L1100.8 2080.9L1106.6 2082.7L1112.2 2085.7L1117.7 2089.7L1123 2094.8L1128 2100.8L1132.7 2107.5L1137 2115L1140.9 2122.9L1144.4 2131.3L1147.4 2139.9L1149.9 2148.6L1151.9 2157.4L1153.3 2166.1L1154.1 2174.6L1154.4 2182.9L1154.1 2190.8L1153.3 2198.3L1151.9 2205.4L1149.9 2212L1147.4 2218.1L1144.4 2223.7L1140.9 2228.7L1137 2233.2L1132.7 2237.2L1128 2240.6L1123 2243.5L1117.7 2245.9L1112.2 2247.7L1106.6 2249L1100.8 2249.8L1095 2250.1z"/><path fill="#57cc7a" d="M1095 2081.2L1100.8 2081.8L1106.5 2083.6L1112.1 2086.5L1117.5 2090.5L1122.7 2095.5L1127.7 2101.4L1132.3 2108L1136.6 2115.4L1140.4 2123.2L1143.9 2131.5L1146.8 2140L1149.3 2148.6L1151.2 2157.3L1152.7 2165.9L1153.5 2174.3L1153.8 2182.5L1153.5 2190.3L1152.7 2197.8L1151.2 2204.8L1149.3 2211.4L1146.8 2217.4L1143.9 2223L1140.4 2228L1136.6 2232.5L1132.3 2236.4L1127.7 2239.8L1122.7 2242.7L1117.5 2245.1L1112.1 2246.9L1106.5 2248.2L1100.8 2249L1095 2249.2z"/><path fill="#5ccc76" d="M1095 2082L1101.1 2082.7L1107.1 2084.7L1113 2088L1118.7 2092.4L1124.1 2098L1129.2 2104.5L1133.9 2111.8L1138.2 2119.8L1142 2128.4L1145.4 2137.2L1148.1 2146.3L1150.3 2155.5L1151.9 2164.6L1152.8 2173.5L1153.1 2182.1L1152.8 2190.4L1151.9 2198.2L1150.3 2205.6L1148.1 2212.4L1145.4 2218.7L1142 2224.3L1138.2 2229.4L1133.9 2233.9L1129.2 2237.7L1124.1 2241L1118.7 2243.7L1113 2245.7L1107.1 2247.2L1101.1 2248.1L1095 2248.4z"/><path fill="#61cd71" d="M1095 2082.9L1101 2083.6L1107 2085.5L1112.8 2088.7L1118.4 2093.1L1123.8 2098.6L1128.8 2105L1133.5 2112.3L1137.7 2120.2L1141.5 2128.6L1144.8 2137.4L1147.5 2146.4L1149.7 2155.4L1151.3 2164.4L1152.2 2173.2L1152.5 2181.8L1152.2 2190L1151.3 2197.7L1149.7 2205L1147.5 2211.8L1144.8 2218L1141.5 2223.6L1137.7 2228.6L1133.5 2233.1L1128.8 2236.9L1123.8 2240.2L1118.4 2242.8L1112.8 2244.9L1107 2246.3L1101 2247.2L1095 2247.5z"/><path fill="#67cd6c" d="M1095 2083.8L1100.9 2084.4L1106.8 2086.3L1112.6 2089.5L1118.1 2093.8L1123.4 2099.2L1128.4 2105.6L1133.1 2112.7L1137.3 2120.5L1141 2128.8L1144.3 2137.5L1147 2146.4L1149.1 2155.3L1150.6 2164.2L1151.6 2173L1151.9 2181.4L1151.6 2189.5L1150.6 2197.2L1149.1 2204.4L1147 2211.2L1144.3 2217.3L1141 2222.9L1137.3 2227.9L1133.1 2232.3L1128.4 2236.1L1123.4 2239.4L1118.1 2242L1112.6 2244L1106.8 2245.5L1100.9 2246.4L1095 2246.7z"/><path fill="#6dcd68" d="M1095 2084.6L1100.9 2085.3L1106.7 2087.2L1112.4 2090.3L1117.9 2094.6L1123.1 2099.9L1128.1 2106.1L1132.6 2113.2L1136.8 2120.9L1140.5 2129.1L1143.7 2137.6L1146.4 2146.4L1148.5 2155.3L1150 2164.1L1150.9 2172.7L1151.3 2181.1L1150.9 2189.1L1150 2196.7L1148.5 2203.9L1146.4 2210.5L1143.7 2216.6L1140.5 2222.2L1136.8 2227.2L1132.6 2231.5L1128.1 2235.3L1123.1 2238.5L1117.9 2241.2L1112.4 2243.2L1106.7 2244.6L1100.9 2245.5L1095 2245.8z"/><path fill="#73cd63" d="M1095 2085.5L1100.8 2086.1L1106.6 2088L1112.2 2091.1L1117.6 2095.3L1122.8 2100.5L1127.7 2106.7L1132.2 2113.6L1136.3 2121.2L1140 2129.3L1143.2 2137.8L1145.8 2146.4L1147.9 2155.2L1149.4 2163.9L1150.3 2172.4L1150.6 2180.7L1150.3 2188.7L1149.4 2196.2L1147.9 2203.3L1145.8 2209.9L1143.2 2216L1140 2221.5L1136.3 2226.4L1132.2 2230.8L1127.7 2234.5L1122.8 2237.7L1117.6 2240.3L1112.2 2242.4L1106.6 2243.8L1100.8 2244.7L1095 2244.9z"/><path fill="#79cc5e" d="M1095 2086.3L1100.7 2087L1106.4 2088.8L1112 2091.8L1117.4 2096L1122.5 2101.2L1127.3 2107.2L1131.8 2114.1L1135.9 2121.6L1139.5 2129.6L1142.6 2137.9L1145.2 2146.5L1147.3 2155.1L1148.8 2163.7L1149.7 2172.2L1150 2180.4L1149.7 2188.3L1148.8 2195.7L1147.3 2202.8L1145.2 2209.3L1142.6 2215.3L1139.5 2220.8L1135.9 2225.7L1131.8 2230L1127.3 2233.8L1122.5 2236.9L1117.4 2239.5L1112 2241.5L1106.4 2242.9L1100.7 2243.8L1095 2244.1z"/><path fill="#80cc5a" d="M1095 2087.2L1100.7 2087.8L1106.3 2089.6L1111.8 2092.6L1117.1 2096.7L1122.2 2101.8L1127 2107.8L1131.4 2114.6L1135.4 2122L1139 2129.8L1142.1 2138.1L1144.7 2146.5L1146.7 2155.1L1148.2 2163.6L1149.1 2171.9L1149.4 2180L1149.1 2187.8L1148.2 2195.3L1146.7 2202.2L1144.7 2208.7L1142.1 2214.7L1139 2220.1L1135.4 2224.9L1131.4 2229.2L1127 2233L1122.2 2236.1L1117.1 2238.7L1111.8 2240.7L1106.3 2242.1L1100.7 2242.9L1095 2243.2z"/><path fill="#86cb55" d="M1095 2088.1L1100.6 2088.7L1106.2 2090.5L1111.6 2093.4L1116.9 2097.4L1121.9 2102.5L1126.6 2108.4L1131 2115L1134.9 2122.3L1138.5 2130.1L1141.5 2138.2L1144.1 2146.6L1146.1 2155L1147.6 2163.4L1148.4 2171.7L1148.7 2179.7L1148.4 2187.4L1147.6 2194.8L1146.1 2201.7L1144.1 2208.1L1141.5 2214L1138.5 2219.4L1134.9 2224.2L1131 2228.5L1126.6 2232.2L1121.9 2235.3L1116.9 2237.8L1111.6 2239.8L1106.2 2241.2L1100.6 2242.1L1095 2242.4z"/><path fill="#8ccb50" d="M1095 2088.9L1100.6 2089.5L1106 2091.3L1111.4 2094.2L1116.6 2098.2L1121.6 2103.1L1126.2 2108.9L1130.5 2115.5L1134.5 2122.7L1138 2130.4L1141 2138.4L1143.5 2146.6L1145.5 2155L1147 2163.3L1147.8 2171.4L1148.1 2179.4L1147.8 2187L1147 2194.3L1145.5 2201.1L1143.5 2207.5L1141 2213.4L1138 2218.7L1134.5 2223.5L1130.5 2227.7L1126.2 2231.4L1121.6 2234.5L1116.6 2237L1111.4 2239L1106 2240.4L1100.6 2241.2L1095 2241.5z"/><path fill="#92ca4b" d="M1095 2089.8L1100.5 2090.4L1105.9 2092.1L1111.2 2095L1116.3 2098.9L1121.2 2103.7L1125.9 2109.5L1130.1 2116L1134 2123.1L1137.5 2130.6L1140.5 2138.5L1143 2146.7L1144.9 2154.9L1146.3 2163.1L1147.2 2171.2L1147.5 2179.1L1147.2 2186.6L1146.3 2193.8L1144.9 2200.6L1143 2206.9L1140.5 2212.7L1137.5 2218L1134 2222.7L1130.1 2226.9L1125.9 2230.6L1121.2 2233.7L1116.3 2236.2L1111.2 2238.2L1105.9 2239.5L1100.5 2240.4L1095 2240.7z"/><path fill="#98c947" d="M1095 2090.6L1100.4 2091.2L1105.8 2092.9L1111 2095.7L1116.1 2099.6L1120.9 2104.4L1125.5 2110.1L1129.7 2116.4L1133.5 2123.4L1137 2130.9L1139.9 2138.7L1142.4 2146.7L1144.3 2154.9L1145.7 2163L1146.6 2171L1146.9 2178.7L1146.6 2186.2L1145.7 2193.3L1144.3 2200L1142.4 2206.3L1139.9 2212.1L1137 2217.3L1133.5 2222L1129.7 2226.2L1125.5 2229.8L1120.9 2232.9L1116.1 2235.4L1111 2237.3L1105.8 2238.7L1100.4 2239.5L1095 2239.8z"/><path fill="#9ec942" d="M1095 2091.5L1100.4 2092.1L1105.7 2093.8L1110.8 2096.5L1115.8 2100.3L1120.6 2105.1L1125.1 2110.6L1129.3 2116.9L1133.1 2123.8L1136.5 2131.2L1139.4 2138.9L1141.8 2146.8L1143.7 2154.8L1145.1 2162.8L1146 2170.7L1146.2 2178.4L1146 2185.8L1145.1 2192.9L1143.7 2199.5L1141.8 2205.7L1139.4 2211.4L1136.5 2216.6L1133.1 2221.3L1129.3 2225.4L1125.1 2229L1120.6 2232.1L1115.8 2234.5L1110.8 2236.5L1105.7 2237.9L1100.4 2238.7L1095 2239z"/><path fill="#a4c83e" d="M1095 2092.4L1100.3 2092.9L1105.5 2094.6L1110.6 2097.3L1115.6 2101L1120.3 2105.7L1124.8 2111.2L1128.9 2117.4L1132.6 2124.2L1136 2131.4L1138.8 2139.1L1141.2 2146.9L1143.1 2154.8L1144.5 2162.7L1145.3 2170.5L1145.6 2178.1L1145.3 2185.4L1144.5 2192.4L1143.1 2199L1141.2 2205.1L1138.8 2210.8L1136 2215.9L1132.6 2220.6L1128.9 2224.7L1124.8 2228.2L1120.3 2231.2L1115.6 2233.7L1110.6 2235.6L1105.5 2237L1100.3 2237.8L1095 2238.1z"/><path fill="#aac73a" d="M1095 2093.2L1100.2 2093.8L1105.4 2095.4L1110.5 2098.1L1115.3 2101.8L1120 2106.4L1124.4 2111.8L1128.5 2117.9L1132.2 2124.6L1135.5 2131.7L1138.3 2139.2L1140.7 2147L1142.6 2154.8L1143.9 2162.6L1144.7 2170.3L1145 2177.8L1144.7 2185L1143.9 2191.9L1142.6 2198.4L1140.7 2204.5L1138.3 2210.1L1135.5 2215.2L1132.2 2219.8L1128.5 2223.9L1124.4 2227.4L1120 2230.4L1115.3 2232.9L1110.5 2234.8L1105.4 2236.2L1100.2 2237L1095 2237.2z"/><path fill="#b0c636" d="M1095 2094.1L1100.2 2094.6L1105.3 2096.2L1110.3 2098.9L1115.1 2102.5L1119.7 2107L1124 2112.3L1128 2118.4L1131.7 2125L1135 2132L1137.8 2139.4L1140.1 2147L1142 2154.7L1143.3 2162.5L1144.1 2170.1L1144.4 2177.5L1144.1 2184.7L1143.3 2191.5L1142 2197.9L1140.1 2203.9L1137.8 2209.5L1135 2214.6L1131.7 2219.1L1128 2223.2L1124 2226.7L1119.7 2229.6L1115.1 2232.1L1110.3 2234L1105.3 2235.3L1100.2 2236.1L1095 2236.4z"/><path fill="#b5c533" d="M1095 2094.9L1100.1 2095.5L1105.1 2097.1L1110.1 2099.7L1114.8 2103.2L1119.4 2107.7L1123.7 2112.9L1127.6 2118.8L1131.2 2125.3L1134.5 2132.3L1137.2 2139.6L1139.5 2147.1L1141.4 2154.7L1142.7 2162.3L1143.5 2169.9L1143.8 2177.2L1143.5 2184.3L1142.7 2191L1141.4 2197.4L1139.5 2203.4L1137.2 2208.9L1134.5 2213.9L1131.2 2218.4L1127.6 2222.4L1123.7 2225.9L1119.4 2228.8L1114.8 2231.2L1110.1 2233.1L1105.1 2234.5L1100.1 2235.3L1095 2235.5z"/><path fill="#bbc430" d="M1095 2095.8L1100 2096.3L1105 2097.9L1109.9 2100.4L1114.6 2103.9L1119.1 2108.3L1123.3 2113.5L1127.2 2119.3L1130.8 2125.7L1134 2132.6L1136.7 2139.8L1139 2147.2L1140.8 2154.7L1142.1 2162.2L1142.9 2169.6L1143.1 2176.9L1142.9 2183.9L1142.1 2190.6L1140.8 2196.9L1139 2202.8L1136.7 2208.2L1134 2213.2L1130.8 2217.7L1127.2 2221.6L1123.3 2225.1L1119.1 2228L1114.6 2230.4L1109.9 2232.3L1105 2233.6L1100 2234.4L1095 2234.7z"/><path fill="#c0c32d" d="M1095 2096.7L1100 2097.2L1104.9 2098.7L1109.7 2101.2L1114.3 2104.7L1118.8 2109L1122.9 2114.1L1126.8 2119.8L1130.3 2126.1L1133.5 2132.9L1136.2 2140L1138.4 2147.3L1140.2 2154.7L1141.5 2162.1L1142.3 2169.4L1142.5 2176.6L1142.3 2183.5L1141.5 2190.1L1140.2 2196.4L1138.4 2202.2L1136.2 2207.6L1133.5 2212.5L1130.3 2217L1126.8 2220.9L1122.9 2224.3L1118.8 2227.2L1114.3 2229.6L1109.7 2231.4L1104.9 2232.8L1100 2233.6L1095 2233.8z"/><path fill="#c5c22a" d="M1095 2097.5L1100.3 2098.1L1105.4 2099.8L1110.5 2102.7L1115.4 2106.5L1120 2111.3L1124.3 2117L1128.2 2123.4L1131.7 2130.3L1134.7 2137.6L1137.3 2145.3L1139.3 2153.1L1140.7 2161L1141.6 2168.7L1141.9 2176.3L1141.6 2183.6L1140.7 2190.6L1139.3 2197.1L1137.3 2203.2L1134.7 2208.8L1131.7 2213.8L1128.2 2218.3L1124.3 2222.1L1120 2225.4L1115.4 2228.2L1110.5 2230.3L1105.4 2231.8L1100.3 2232.7L1095 2233z"/><path fill="#cac129" d="M1095 2098.4L1100.2 2098.9L1105.3 2100.7L1110.3 2103.4L1115.1 2107.2L1119.6 2112L1123.9 2117.5L1127.7 2123.8L1131.2 2130.6L1134.2 2137.9L1136.7 2145.4L1138.7 2153.1L1140.1 2160.9L1141 2168.5L1141.3 2176L1141 2183.3L1140.1 2190.1L1138.7 2196.6L1136.7 2202.6L1134.2 2208.1L1131.2 2213.1L1127.7 2217.5L1123.9 2221.4L1119.6 2224.7L1115.1 2227.3L1110.3 2229.4L1105.3 2230.9L1100.2 2231.8L1095 2232.1z"/><path fill="#cfc028" d="M1095 2099.2L1100.1 2099.8L1105.2 2101.5L1110.1 2104.2L1114.8 2108L1119.3 2112.6L1123.5 2118.1L1127.3 2124.2L1130.7 2131L1133.7 2138.1L1136.2 2145.5L1138.1 2153.1L1139.5 2160.8L1140.4 2168.4L1140.7 2175.8L1140.4 2182.9L1139.5 2189.7L1138.1 2196.1L1136.2 2202L1133.7 2207.5L1130.7 2212.4L1127.3 2216.8L1123.5 2220.6L1119.3 2223.9L1114.8 2226.5L1110.1 2228.6L1105.2 2230.1L1100.1 2231L1095 2231.3z"/><path fill="#d4bf27" d="M1095 2100.1L1100 2100.6L1105 2102.3L1109.9 2105L1114.6 2108.7L1119 2113.3L1123.1 2118.6L1126.9 2124.7L1130.2 2131.3L1133.2 2138.4L1135.6 2145.7L1137.5 2153.2L1138.9 2160.7L1139.8 2168.2L1140.1 2175.5L1139.8 2182.5L1138.9 2189.2L1137.5 2195.6L1135.6 2201.5L1133.2 2206.8L1130.2 2211.7L1126.9 2216.1L1123.1 2219.9L1119 2223.1L1114.6 2225.7L1109.9 2227.8L1105 2229.2L1100 2230.1L1095 2230.4z"/><path fill="#d8be28" d="M1095 2101L1100 2101.5L1104.9 2103.1L1109.7 2105.8L1114.3 2109.4L1118.7 2113.9L1122.7 2119.2L1126.4 2125.2L1129.8 2131.7L1132.6 2138.6L1135.1 2145.8L1137 2153.2L1138.3 2160.6L1139.2 2168L1139.5 2175.2L1139.2 2182.2L1138.3 2188.8L1137 2195.1L1135.1 2200.9L1132.6 2206.2L1129.8 2211L1126.4 2215.3L1122.7 2219.1L1118.7 2222.3L1114.3 2224.9L1109.7 2226.9L1104.9 2228.4L1100 2229.3L1095 2229.5z"/><path fill="#dcbd29" d="M1095 2101.8L1099.9 2102.3L1104.8 2103.9L1109.5 2106.5L1114 2110.1L1118.3 2114.5L1122.3 2119.7L1126 2125.6L1129.3 2132L1132.1 2138.8L1134.5 2146L1136.4 2153.2L1137.8 2160.6L1138.6 2167.8L1138.9 2174.9L1138.6 2181.8L1137.8 2188.4L1136.4 2194.5L1134.5 2200.3L1132.1 2205.6L1129.3 2210.4L1126 2214.6L1122.3 2218.3L1118.3 2221.5L1114 2224.1L1109.5 2226.1L1104.8 2227.5L1099.9 2228.4L1095 2228.7z"/><path fill="#e0bc2b" d="M1095 2102.7L1099.8 2103.2L1104.6 2104.8L1109.3 2107.3L1113.8 2110.8L1118 2115.2L1122 2120.3L1125.6 2126.1L1128.8 2132.4L1131.6 2139.1L1134 2146.1L1135.8 2153.3L1137.2 2160.5L1138 2167.7L1138.2 2174.7L1138 2181.5L1137.2 2187.9L1135.8 2194L1134 2199.7L1131.6 2205L1128.8 2209.7L1125.6 2213.9L1122 2217.6L1118 2220.7L1113.8 2223.3L1109.3 2225.3L1104.6 2226.7L1099.8 2227.5L1095 2227.8z"/><path fill="#e4bb2c" d="M1095 2103.5L1099.8 2104L1104.5 2105.6L1109.1 2108.1L1113.5 2111.5L1117.7 2115.8L1121.6 2120.9L1125.1 2126.5L1128.3 2132.7L1131.1 2139.3L1133.4 2146.2L1135.2 2153.3L1136.6 2160.4L1137.4 2167.5L1137.6 2174.4L1137.4 2181.1L1136.6 2187.5L1135.2 2193.5L1133.4 2199.2L1131.1 2204.3L1128.3 2209L1125.1 2213.2L1121.6 2216.8L1117.7 2219.9L1113.5 2222.4L1109.1 2224.4L1104.5 2225.8L1099.8 2226.7L1095 2227z"/><path fill="#e8bb2f" d="M1095 2104.4L1099.7 2104.9L1104.4 2106.4L1108.9 2108.9L1113.2 2112.3L1117.4 2116.5L1121.2 2121.4L1124.7 2127L1127.9 2133.1L1130.6 2139.6L1132.9 2146.4L1134.7 2153.4L1136 2160.4L1136.8 2167.3L1137 2174.2L1136.8 2180.8L1136 2187.1L1134.7 2193L1132.9 2198.6L1130.6 2203.7L1127.9 2208.3L1124.7 2212.5L1121.2 2216.1L1117.4 2219.1L1113.2 2221.6L1108.9 2223.6L1104.4 2225L1099.7 2225.8L1095 2226.1z"/><path fill="#edba33" d="M1095 2105.3L1099.6 2105.8L1104.2 2107.2L1108.7 2109.7L1113 2113L1117 2117.1L1120.8 2122L1124.3 2127.5L1127.4 2133.5L1130.1 2139.9L1132.3 2146.5L1134.1 2153.4L1135.4 2160.3L1136.2 2167.2L1136.4 2173.9L1136.2 2180.4L1135.4 2186.7L1134.1 2192.5L1132.3 2198L1130.1 2203.1L1127.4 2207.7L1124.3 2211.7L1120.8 2215.3L1117 2218.3L1113 2220.8L1108.7 2222.8L1104.2 2224.2L1099.6 2225L1095 2225.3z"/><path fill="#f3ba39" d="M1095 2107L1099.5 2107.5L1103.9 2108.9L1108.3 2111.2L1112.4 2114.4L1116.4 2118.4L1120.1 2123.1L1123.4 2128.4L1126.4 2134.2L1129 2140.4L1131.2 2146.9L1132.9 2153.5L1134.2 2160.2L1134.9 2166.9L1135.2 2173.4L1134.9 2179.8L1134.2 2185.8L1132.9 2191.6L1131.2 2196.9L1129 2201.8L1126.4 2206.3L1123.4 2210.3L1120.1 2213.8L1116.4 2216.8L1112.4 2219.2L1108.3 2221.1L1103.9 2222.5L1099.5 2223.3L1095 2223.6z"/><path fill="#f9bb3d" d="M1095 2108.7L1099.4 2109.2L1103.7 2110.5L1107.9 2112.8L1111.9 2115.9L1115.7 2119.7L1119.3 2124.2L1122.6 2129.4L1125.5 2135L1128 2140.9L1130.1 2147.2L1131.8 2153.6L1133 2160.1L1133.7 2166.6L1134 2172.9L1133.7 2179.1L1133 2185L1131.8 2190.6L1130.1 2195.8L1128 2200.6L1125.5 2205L1122.6 2208.9L1119.3 2212.3L1115.7 2215.2L1111.9 2217.6L1107.9 2219.4L1103.7 2220.8L1099.4 2221.6L1095 2221.8z"/><path fill="#febd3c" d="M1095 2110.4L1099.2 2110.9L1103.4 2112.2L1107.5 2114.3L1111.4 2117.3L1115.1 2121L1118.6 2125.4L1121.7 2130.3L1124.5 2135.7L1127 2141.5L1129 2147.5L1130.7 2153.8L1131.8 2160L1132.5 2166.3L1132.8 2172.5L1132.5 2178.5L1131.8 2184.2L1130.7 2189.6L1129 2194.7L1127 2199.4L1124.5 2203.6L1121.7 2207.5L1118.6 2210.8L1115.1 2213.6L1111.4 2216L1107.5 2217.8L1103.4 2219.1L1099.2 2219.9L1095 2220.1z"/><path fill="#fec239" d="M1095 2113L1099.3 2113.5L1103.6 2114.9L1107.8 2117.3L1111.7 2120.5L1115.4 2124.5L1118.9 2129.2L1121.9 2134.5L1124.6 2140.2L1126.8 2146.3L1128.6 2152.6L1129.9 2159L1130.7 2165.5L1131 2171.8L1130.7 2178L1129.9 2183.8L1128.6 2189.4L1126.8 2194.5L1124.6 2199.2L1121.9 2203.4L1118.9 2207.1L1115.4 2210.3L1111.7 2212.9L1107.8 2214.9L1103.6 2216.4L1099.3 2217.3L1095 2217.6z"/><path fill="#fec735" d="M1095 2115.6L1099.1 2116L1103.2 2117.4L1107.1 2119.6L1110.9 2122.6L1114.4 2126.4L1117.7 2130.8L1120.6 2135.8L1123.1 2141.2L1125.3 2147L1126.9 2153L1128.2 2159.1L1128.9 2165.2L1129.2 2171.2L1128.9 2177L1128.2 2182.6L1126.9 2187.9L1125.3 2192.8L1123.1 2197.3L1120.6 2201.4L1117.7 2204.9L1114.4 2208L1110.9 2210.5L1107.1 2212.5L1103.2 2213.9L1099.1 2214.7L1095 2215z"/><path fill="#fdcc32" d="M1095 2118.1L1098.9 2118.6L1102.7 2119.8L1106.5 2121.9L1110 2124.8L1113.4 2128.3L1116.5 2132.5L1119.2 2137.1L1121.6 2142.3L1123.7 2147.7L1125.3 2153.3L1126.4 2159.1L1127.1 2164.9L1127.4 2170.6L1127.1 2176.1L1126.4 2181.5L1125.3 2186.5L1123.7 2191.2L1121.6 2195.5L1119.2 2199.4L1116.5 2202.8L1113.4 2205.7L1110 2208.1L1106.5 2210L1102.7 2211.3L1098.9 2212.2L1095 2212.4z"/><path fill="#fcd12f" d="M1095 2120.7L1098.7 2121.1L1102.3 2122.3L1105.8 2124.2L1109.2 2126.9L1112.4 2130.2L1115.3 2134.1L1117.9 2138.5L1120.2 2143.3L1122.1 2148.4L1123.6 2153.7L1124.7 2159.2L1125.4 2164.6L1125.6 2170L1125.4 2175.3L1124.7 2180.3L1123.6 2185.1L1122.1 2189.6L1120.2 2193.7L1117.9 2197.4L1115.3 2200.6L1112.4 2203.4L1109.2 2205.7L1105.8 2207.5L1102.3 2208.8L1098.7 2209.6L1095 2209.9z"/><path fill="#fad52d" d="M1095 2123.3L1098.5 2123.7L1101.9 2124.8L1105.2 2126.6L1108.4 2129.1L1111.4 2132.2L1114.1 2135.8L1116.5 2139.9L1118.7 2144.4L1120.5 2149.2L1121.9 2154.2L1123 2159.3L1123.6 2164.4L1123.8 2169.5L1123.6 2174.5L1123 2179.2L1121.9 2183.8L1120.5 2188L1118.7 2191.9L1116.5 2195.4L1114.1 2198.5L1111.4 2201.1L1108.4 2203.3L1105.2 2205.1L1101.9 2206.3L1098.5 2207L1095 2207.3z"/><path fill="#f8da2b" d="M1095 2125.9L1098.5 2126.3L1102 2127.5L1105.3 2129.4L1108.5 2132.1L1111.4 2135.5L1114.1 2139.3L1116.4 2143.7L1118.4 2148.4L1119.9 2153.4L1121.1 2158.6L1121.8 2163.8L1122 2169L1121.8 2174L1121.1 2178.9L1119.9 2183.5L1118.4 2187.7L1116.4 2191.5L1114.1 2194.9L1111.4 2197.9L1108.5 2200.3L1105.3 2202.2L1102 2203.6L1098.5 2204.5L1095 2204.7z"/><path fill="#f6de29" d="M1095 2128.4L1098.3 2128.8L1101.5 2129.9L1104.7 2131.7L1107.6 2134.2L1110.4 2137.3L1112.8 2140.9L1115 2145L1116.8 2149.4L1118.3 2154L1119.4 2158.8L1120 2163.7L1120.2 2168.5L1120 2173.3L1119.4 2177.8L1118.3 2182.1L1116.8 2186.1L1115 2189.7L1112.8 2192.9L1110.4 2195.7L1107.6 2198L1104.7 2199.8L1101.5 2201.1L1098.3 2201.9L1095 2202.2z"/><path fill="#f5e227" d="M1095 2131L1098.1 2131.4L1101.1 2132.4L1104 2134.1L1106.7 2136.3L1109.3 2139.2L1111.6 2142.5L1113.6 2146.2L1115.3 2150.3L1116.7 2154.6L1117.6 2159.1L1118.2 2163.6L1118.4 2168.1L1118.2 2172.5L1117.6 2176.7L1116.7 2180.8L1115.3 2184.5L1113.6 2187.9L1111.6 2190.9L1109.3 2193.5L1106.7 2195.7L1104 2197.4L1101.1 2198.6L1098.1 2199.3L1095 2199.6z"/><path fill="#f5e725" d="M1095 2134.4L1097.8 2134.8L1100.5 2135.7L1103.1 2137.1L1105.5 2139.2L1107.8 2141.7L1109.9 2144.7L1111.7 2148L1113.3 2151.6L1114.5 2155.5L1115.4 2159.5L1115.9 2163.5L1116.1 2167.6L1115.9 2171.5L1115.4 2175.4L1114.5 2179L1113.3 2182.4L1111.7 2185.5L1109.9 2188.2L1107.8 2190.6L1105.5 2192.6L1103.1 2194.1L1100.5 2195.3L1097.8 2195.9L1095 2196.2z"/><path fill="#f5eb23" d="M1095 2137.9L1097.7 2138.2L1100.3 2139.1L1102.8 2140.7L1105.1 2142.8L1107.3 2145.4L1109.2 2148.4L1110.8 2151.8L1112 2155.4L1113 2159.2L1113.5 2163.2L1113.7 2167.1L1113.5 2170.9L1113 2174.7L1112 2178.2L1110.8 2181.4L1109.2 2184.3L1107.3 2186.8L1105.1 2188.9L1102.8 2190.6L1100.3 2191.8L1097.7 2192.5L1095 2192.7z"/><path fill="#f6ef20" d="M1095 2141.3L1097.3 2141.6L1099.6 2142.4L1101.8 2143.7L1103.9 2145.5L1105.7 2147.8L1107.4 2150.4L1108.8 2153.3L1109.9 2156.5L1110.7 2159.8L1111.2 2163.2L1111.4 2166.7L1111.2 2170.1L1110.7 2173.3L1109.9 2176.4L1108.8 2179.2L1107.4 2181.8L1105.7 2184L1103.9 2185.9L1101.8 2187.4L1099.6 2188.4L1097.3 2189.1L1095 2189.3z"/><path fill="#f7f31d" d="M1095 2145.6L1097.1 2145.9L1099.2 2146.7L1101.1 2147.9L1102.9 2149.7L1104.5 2151.8L1105.9 2154.3L1107 2157.1L1107.8 2160.1L1108.3 2163.1L1108.4 2166.2L1108.3 2169.3L1107.8 2172.2L1107 2175L1105.9 2177.5L1104.5 2179.7L1102.9 2181.6L1101.1 2183.1L1099.2 2184.2L1097.1 2184.8L1095 2185z"/><path fill="#f8f719" d="M1095 2150.7L1096.6 2150.9L1098.1 2151.5L1099.5 2152.4L1100.8 2153.7L1102 2155.3L1103 2157.1L1103.8 2159.1L1104.4 2161.3L1104.8 2163.5L1104.9 2165.8L1104.8 2168.1L1104.4 2170.3L1103.8 2172.3L1103 2174.2L1102 2175.9L1100.8 2177.3L1099.5 2178.4L1098.1 2179.2L1096.6 2179.7L1095 2179.9z"/><path fill="#f9fa16" d="M1095 2157.6L1095.9 2157.7L1096.8 2158.1L1097.6 2158.7L1098.4 2159.5L1099 2160.4L1099.6 2161.6L1099.9 2162.8L1100.2 2164.1L1100.3 2165.5L1100.2 2166.8L1099.9 2168.1L1099.6 2169.3L1099 2170.4L1098.4 2171.3L1097.6 2172L1096.8 2172.6L1095.9 2172.9L1095 2173z"/></g>
<use href="#hc" transform="translate(2190 0) scale(-1 1)"/>
</g>
<rect x="637.25" y="1521.45" width="916.2" height="860.7" fill="none" stroke="#000" stroke-width="4.5"/>
<path d="M840.6 2382.2v-11.5M1095 2382.2v-11.5M1349.3 2382.2v-11.5M637.2 2378.8h12M1553.5 2378.8h-12M637.2 2165.3h12M637.2 1951.9h12M637.2 1738.4h12M637.2 1524.9h12" stroke="#000" stroke-width="4" fill="none"/>
<text x="589.5" y="2403.8" text-anchor="end">0</text>
<text x="589.5" y="2190.3" text-anchor="end">5</text>
<text x="589.5" y="1976.9" text-anchor="end">10</text>
<text x="589.5" y="1763.4" text-anchor="end">15</text>
<text x="589.5" y="1549.9" text-anchor="end">20</text>
<text x="839.6" y="2476">−100</text>
<text x="1095" y="2476">0</text>
<text x="1349.3" y="2476">100</text>
<text x="1094.5" y="2576" textLength="134" lengthAdjust="spacingAndGlyphs"><tspan font-style="italic">φ</tspan> (°)</text>
<text x="479" y="1952" transform="rotate(-90 479 1952)" textLength="126" lengthAdjust="spacingAndGlyphs"><tspan font-style="italic">θ</tspan> (°)</text>
<circle cx="1095" cy="2165.3" r="9.5" fill="none" stroke="#e6141e" stroke-width="4.5"/>
<rect x="1574.4" y="1521.45" width="44.25" height="859.05" fill="url(#cbc)" stroke="#000" stroke-width="4.7"/>
<text x="1666" y="2237.5" textLength="84.5" lengthAdjust="spacingAndGlyphs" text-anchor="start">0.2</text>
<text x="1666" y="2063.8" textLength="84.5" lengthAdjust="spacingAndGlyphs" text-anchor="start">0.4</text>
<text x="1666" y="1890.1" textLength="84.5" lengthAdjust="spacingAndGlyphs" text-anchor="start">0.6</text>
<text x="1666" y="1716.4" textLength="84.5" lengthAdjust="spacingAndGlyphs" text-anchor="start">0.8</text>
<text x="1666" y="1542.7" textLength="84.5" lengthAdjust="spacingAndGlyphs" text-anchor="start">1.0</text>
<path d="M1618.7 2216.3h-10.5M1618.7 2042.6h-10.5M1618.7 1868.9h-10.5M1618.7 1695.2h-10.5" stroke="#000" stroke-width="4" fill="none"/>
<path d="M2199.7 802L2199.7 285.5M2227.1 790.7L2227.1 274.2M2254.5 779.3L2254.5 262.8M2309.3 756.6L2309.3 240.1M2336.7 745.3L2336.7 228.8M2364.1 733.9L2364.1 217.4M2391.5 722.6L2391.5 206.1M2446.3 699.8L2446.3 183.3M2473.7 688.5L2473.7 172M2501.1 677.1L2501.1 160.6M2528.5 665.8L2528.5 149.3M2583.3 643.1L2583.3 126.6M2610.7 631.7L2610.7 115.2M2638.1 620.4L2638.1 103.9M2172.3 787.6L2665.5 583.2M2172.3 761.8L2665.5 557.4M2172.3 735.9L2665.5 531.5M2172.3 710.1L2665.5 505.7M2172.3 658.5L2665.5 454.1M2172.3 632.6L2665.5 428.2M2172.3 606.8L2665.5 402.4M2172.3 581L2665.5 376.6M2172.3 529.3L2665.5 324.9M2172.3 503.5L2665.5 299.1M2172.3 477.7L2665.5 273.3M2172.3 451.9L2665.5 247.5M2172.3 400.2L2665.5 195.8M2172.3 374.4L2665.5 170M2172.3 348.5L2665.5 144.1M2172.3 322.7L2665.5 118.3M2741.6 629.6L2741.6 113.1M2817.7 650.2L2817.7 133.8M2893.8 670.9L2893.8 154.4M3046 712.1L3046 195.6M3122.1 732.8L3122.1 216.2M3198.2 753.4L3198.2 236.9M2665.5 583.2L3274.3 748.2M2665.5 557.4L3274.3 722.4M2665.5 531.5L3274.3 696.5M2665.5 505.7L3274.3 670.7M2665.5 454.1L3274.3 619M2665.5 428.2L3274.3 593.2M2665.5 402.4L3274.3 567.4M2665.5 376.6L3274.3 541.6M2665.5 324.9L3274.3 489.9M2665.5 299.1L3274.3 464.1M2665.5 273.3L3274.3 438.3M2665.5 247.5L3274.3 412.5M2665.5 195.8L3274.3 360.8M2665.5 170L3274.3 335M2665.5 144.1L3274.3 309.1M2665.5 118.3L3274.3 283.3M2248.4 834L2741.6 629.6M2324.5 854.6L2817.7 650.2M2400.6 875.3L2893.8 670.9M2552.8 916.5L3046 712.1M2628.9 937.1L3122.1 732.8M2705 957.8L3198.2 753.4M2199.7 802L2808.5 967M2227.1 790.7L2835.9 955.7M2254.5 779.3L2863.3 944.3M2309.3 756.6L2918.1 921.6M2336.7 745.3L2945.5 910.3M2364.1 733.9L2972.9 898.9M2391.5 722.6L3000.3 887.6M2446.3 699.8L3055.1 864.8M2473.7 688.5L3082.5 853.5M2501.1 677.1L3109.9 842.1M2528.5 665.8L3137.3 830.8M2583.3 643.1L3192.1 808.1M2610.7 631.7L3219.5 796.7M2638.1 620.4L3246.9 785.4" stroke="#b8b8b8" stroke-width="1.1" stroke-dasharray="1 1.3" fill="none"/>
<path d="M2281.9 768L2281.9 251.5M2418.9 711.2L2418.9 194.7M2555.9 654.4L2555.9 137.9M2172.3 684.3L2665.5 479.9M2172.3 555.1L2665.5 350.8M2172.3 426L2665.5 221.6M2969.9 691.5L2969.9 175M2665.5 479.9L3274.3 644.9M2665.5 350.8L3274.3 515.8M2665.5 221.6L3274.3 386.6M2476.7 895.9L2969.9 691.5M2281.9 768L2890.7 933M2418.9 711.2L3027.7 876.2M2555.9 654.4L3164.7 819.4" stroke="#dedede" stroke-width="1.2" fill="none"/>
<path d="M2665.5 95.1L2665.5 609M2665.5 609L2172.3 813.4M2665.5 609L3274.3 774" stroke="#262626" stroke-width="1.4" fill="none"/>
<path fill="#999" d="M2396.3 587.3C2397 585.9 2398.8 583.7 2401.7 581.9C2404.5 580.1 2409.6 578.5 2413.6 576.5C2417.5 574.6 2422 571.9 2425.5 570C2428.9 568.1 2432 566.4 2434.4 565.2C2436.8 564.1 2438.4 563.5 2439.8 563.2C2441.1 562.8 2441.8 562.6 2442.4 563C2443.1 563.3 2443.6 564.1 2443.6 565.2C2443.7 566.4 2443.5 568.2 2442.7 570C2442 571.8 2440.6 574.1 2439.2 576C2437.8 577.8 2436.2 579.7 2434.4 581.3C2432.6 582.9 2430.4 584.2 2428.5 585.5C2426.5 586.8 2424.5 588.1 2422.5 589C2420.5 590 2418.5 590.5 2416.5 591.1C2414.6 591.7 2412.5 592.4 2410.6 592.6C2408.7 592.9 2406.8 592.8 2405.2 592.7C2403.7 592.7 2402.3 592.6 2401.1 592.1C2399.8 591.7 2398.6 590.8 2397.8 589.9C2397 589.1 2395.7 588.6 2396.3 587.3z"/>
<g fill="#999"><ellipse cx="2958.4" cy="558.7" rx="5.4" ry="6.2"/><ellipse cx="2969.7" cy="561.1" rx="7.1" ry="9.2"/><ellipse cx="2981.3" cy="564.9" rx="5.4" ry="6"/></g>
<path fill="#999" d="M2696.3 795.2C2696.6 794 2697.2 792.9 2698.7 791.7C2700.2 790.5 2702.8 789.2 2705.2 788.1C2707.7 787 2710.7 785.7 2713.6 784.8C2716.4 783.9 2720.1 783.1 2722.5 782.7C2724.9 782.3 2726.6 782.2 2727.9 782.4C2729.1 782.6 2728.8 783.9 2730.2 783.9C2731.6 783.9 2734 782.8 2736.2 782.4C2738.4 782.1 2741.4 781.6 2743.3 781.8C2745.2 782 2746.7 782.8 2747.5 783.6C2748.3 784.5 2747.5 785.8 2748.1 786.9C2748.7 788 2750.7 789.3 2751.1 790.5C2751.5 791.7 2751.4 792.9 2750.5 794C2749.6 795.2 2747.7 796.4 2745.7 797.6C2743.7 798.8 2741.2 800.1 2738.6 801.2C2736 802.2 2732.8 803.1 2730.2 803.9C2727.7 804.6 2724.9 805.5 2723.1 805.7C2721.3 805.9 2721.1 805.1 2719.5 805.1C2717.9 805 2715.8 805.2 2713.6 805.4C2711.4 805.5 2708.4 806.2 2706.4 806C2704.4 805.7 2702.9 804.7 2701.7 803.9C2700.5 803.1 2700 802 2699.3 801.2C2698.5 800.3 2697.7 799.8 2697.2 798.8C2696.7 797.8 2696.1 796.4 2696.3 795.2z"/>
<circle cx="2722.4" cy="664.5" r="14.6" fill="none" stroke="#e6141e" stroke-width="3.4"/>
<path fill="#0072bd" d="M2696.5 665.9C2697 664.4 2698 662 2699.9 660.4C2701.9 658.8 2705.4 657.7 2708.1 656.4C2710.8 655 2713.1 653.3 2716.2 652.3C2719.4 651.3 2723.9 650.7 2727.1 650.2C2730.3 649.8 2732.8 650.1 2735.3 649.6C2737.8 649 2740.1 647.5 2742.1 646.8C2744 646.2 2745.7 645.3 2746.8 645.5C2747.9 645.7 2748.6 647 2748.6 648.2C2748.6 649.5 2747.5 651.7 2746.8 653C2746.2 654.2 2744.2 655 2744.8 655.7C2745.3 656.4 2749.1 656.1 2750.2 657C2751.3 657.9 2751.7 659.8 2751.6 661.1C2751.5 662.5 2750.9 663.8 2749.5 665.2C2748.2 666.5 2745.8 668 2743.4 669.3C2741 670.5 2738.2 671.8 2735.3 672.7C2732.3 673.6 2729.2 674.2 2725.8 674.7C2722.4 675.2 2718.3 675.4 2714.9 675.4C2711.5 675.4 2707.9 675.3 2705.4 674.7C2702.9 674.1 2701.3 672.9 2699.9 672C2698.5 671.1 2697.5 670.3 2697 669.3C2696.4 668.2 2696.1 667.3 2696.5 665.9z"/>
<path fill="none" stroke="#e6141e" stroke-width="3.4" stroke-linecap="round" d="M2708.4 660.5A14.6 14.6 0 0 1 2736.6 661.1"/>
<path d="M2174.5 811L2174.5 297.1L2667.8 93.6L3274 257.9L3274 771.8L2780.7 975.3L2174.5 811z" stroke="#000" stroke-width="4.5" fill="none" stroke-linejoin="miter"/>
<path d="M2174.5 811.8L2193.9 803.8M2174.5 683.3L2193.9 675.3M2174.5 554.8L2193.9 546.8M2174.5 426.4L2193.9 418.4M2477.6 893.1L2497.9 884.8M2890.3 930.1L2870.1 924.6M3027.3 873.5L3007.1 868.1M3164.4 817L3144.1 811.5" stroke="#000" stroke-width="4.5" fill="none"/>
<text x="2125" y="820.3" text-anchor="end">0</text>
<text x="2125" y="691.8" text-anchor="end">5</text>
<text x="2125" y="563.3" text-anchor="end">10</text>
<text x="2125" y="434.9" text-anchor="end">15</text>
<text x="2125" y="306.4" text-anchor="end">20</text>
<text x="2144.2" y="890.8" transform="rotate(15.4 2144.2 868.8)">1480</text>
<text x="2426.8" y="968.7" transform="rotate(15.4 2426.8 946.7)">1500</text>
<text x="2722.8" y="1049.2" transform="rotate(15.4 2722.8 1027.2)">1520</text>
<text x="2958.5" y="993.5" transform="rotate(-22.4 2958.5 971.5)">−100</text>
<text x="3079.5" y="948.8" transform="rotate(-22.4 3079.5 926.8)">0</text>
<text x="3221.5" y="894.8" transform="rotate(-22.4 3221.5 872.8)">100</text>
<text x="2190" y="1003.2" transform="rotate(15.4 2190 1003.2)" text-anchor="start" textLength="303" lengthAdjust="spacingAndGlyphs">Range (m)</text>
<text x="3114.3" y="1044" transform="rotate(-22.4 3114.3 1022)" textLength="134" lengthAdjust="spacingAndGlyphs"><tspan font-style="italic">φ</tspan> (°)</text>
<text x="2020" y="538" transform="rotate(-90 2020 538)" textLength="126" lengthAdjust="spacingAndGlyphs"><tspan font-style="italic">θ</tspan> (°)</text>
<path d="M2238 2228.2L2238 1711.7M2265.4 2216.9L2265.4 1700.4M2292.8 2205.5L2292.8 1689M2347.6 2182.8L2347.6 1666.3M2375 2171.5L2375 1655M2402.4 2160.1L2402.4 1643.6M2429.8 2148.8L2429.8 1632.3M2484.6 2126L2484.6 1609.5M2512 2114.7L2512 1598.2M2539.4 2103.3L2539.4 1586.8M2566.8 2092L2566.8 1575.5M2621.6 2069.3L2621.6 1552.8M2649 2057.9L2649 1541.4M2676.4 2046.6L2676.4 1530.1M2210.6 2213.8L2703.8 2009.4M2210.6 2187.9L2703.8 1983.5M2210.6 2162.1L2703.8 1957.7M2210.6 2136.3L2703.8 1931.9M2210.6 2084.7L2703.8 1880.2M2210.6 2058.8L2703.8 1854.4M2210.6 2033L2703.8 1828.6M2210.6 2007.2L2703.8 1802.8M2210.6 1955.5L2703.8 1751.1M2210.6 1929.7L2703.8 1725.3M2210.6 1903.9L2703.8 1699.5M2210.6 1878L2703.8 1673.6M2210.6 1826.4L2703.8 1622M2210.6 1800.6L2703.8 1596.2M2210.6 1774.8L2703.8 1570.3M2210.6 1748.9L2703.8 1544.5M2779.9 2055.8L2779.9 1539.3M2856 2076.4L2856 1559.9M2932.1 2097.1L2932.1 1580.6M3084.3 2138.3L3084.3 1621.8M3160.4 2158.9L3160.4 1642.4M3236.5 2179.6L3236.5 1663.1M2703.8 2009.4L3312.6 2174.4M2703.8 1983.5L3312.6 2148.5M2703.8 1957.7L3312.6 2122.7M2703.8 1931.9L3312.6 2096.9M2703.8 1880.2L3312.6 2045.2M2703.8 1854.4L3312.6 2019.4M2703.8 1828.6L3312.6 1993.6M2703.8 1802.8L3312.6 1967.8M2703.8 1751.1L3312.6 1916.1M2703.8 1725.3L3312.6 1890.3M2703.8 1699.5L3312.6 1864.5M2703.8 1673.6L3312.6 1838.6M2703.8 1622L3312.6 1787M2703.8 1596.2L3312.6 1761.2M2703.8 1570.3L3312.6 1735.3M2703.8 1544.5L3312.6 1709.5M2286.7 2260.2L2779.9 2055.8M2362.8 2280.8L2856 2076.4M2438.9 2301.5L2932.1 2097.1M2591.1 2342.7L3084.3 2138.3M2667.2 2363.3L3160.4 2158.9M2743.3 2384L3236.5 2179.6M2238 2228.2L2846.8 2393.2M2265.4 2216.9L2874.2 2381.9M2292.8 2205.5L2901.6 2370.5M2347.6 2182.8L2956.4 2347.8M2375 2171.5L2983.8 2336.5M2402.4 2160.1L3011.2 2325.1M2429.8 2148.8L3038.6 2313.8M2484.6 2126L3093.4 2291M2512 2114.7L3120.8 2279.7M2539.4 2103.3L3148.2 2268.3M2566.8 2092L3175.6 2257M2621.6 2069.3L3230.4 2234.3M2649 2057.9L3257.8 2222.9M2676.4 2046.6L3285.2 2211.6" stroke="#b8b8b8" stroke-width="1.1" stroke-dasharray="1 1.3" fill="none"/>
<path d="M2320.2 2194.2L2320.2 1677.7M2457.2 2137.4L2457.2 1620.9M2594.2 2080.6L2594.2 1564.1M2210.6 2110.5L2703.8 1906.1M2210.6 1981.3L2703.8 1776.9M2210.6 1852.2L2703.8 1647.8M3008.2 2117.7L3008.2 1601.2M2703.8 1906.1L3312.6 2071.1M2703.8 1776.9L3312.6 1941.9M2703.8 1647.8L3312.6 1812.8M2515 2322.1L3008.2 2117.7M2320.2 2194.2L2929 2359.2M2457.2 2137.4L3066 2302.4M2594.2 2080.6L3203 2245.6" stroke="#dedede" stroke-width="1.2" fill="none"/>
<path d="M2703.8 1521.3L2703.8 2035.2M2703.8 2035.2L2210.6 2239.6M2703.8 2035.2L3312.6 2200.2" stroke="#262626" stroke-width="1.4" fill="none"/>
<path fill="#999" d="M2467.6 1952.3C2470.9 1952.8 2474.5 1954.6 2477.7 1957.9C2480.9 1961.2 2484.4 1967 2486.8 1972.1C2489.2 1977.1 2490.8 1983 2491.9 1988.3C2493 1993.5 2493.4 1998.4 2493.4 2003.4C2493.4 2008.5 2493 2013.4 2491.9 2018.6C2490.8 2023.8 2489.2 2029.7 2486.8 2034.8C2484.4 2039.9 2481.2 2044.9 2477.7 2049C2474.2 2053 2469.9 2056.7 2465.5 2059.1C2461.2 2061.5 2455.4 2062.8 2451.4 2063.7C2447.3 2064.5 2444.5 2064.9 2441.3 2064.2C2438.1 2063.4 2434.7 2061.6 2432.1 2059.1C2429.6 2056.6 2427.6 2053.2 2426.1 2049C2424.6 2044.8 2423.5 2038.9 2423.2 2033.8C2423 2028.7 2423.7 2023.7 2424.6 2018.6C2425.4 2013.6 2426.7 2008.5 2428.1 2003.4C2429.5 1998.4 2431.3 1993.1 2433.2 1988.3C2435 1983.4 2436.9 1978.6 2439.2 1974.1C2441.6 1969.5 2444.3 1964.1 2447.3 1960.9C2450.4 1957.7 2454.1 1956.3 2457.5 1954.8C2460.8 1953.4 2464.2 1951.8 2467.6 1952.3z"/>
<ellipse cx="3008.7" cy="1988.9" rx="7.6" ry="54" fill="#999"/>
<ellipse cx="2761.6" cy="2220.1" rx="38.5" ry="6.3" transform="rotate(-21.8 2761.6 2220.1)" fill="#999"/>
<path fill="#0072bd" d="M2771 2034.9C2774.3 2035.4 2777.9 2037.2 2781.1 2040.5C2784.3 2043.8 2787.8 2049.6 2790.2 2054.7C2792.6 2059.7 2794.2 2065.6 2795.3 2070.9C2796.4 2076.1 2796.8 2081 2796.8 2086C2796.8 2091.1 2796.4 2096 2795.3 2101.2C2794.2 2106.4 2792.6 2112.3 2790.2 2117.4C2787.8 2122.5 2784.6 2127.5 2781.1 2131.6C2777.6 2135.6 2773.3 2139.3 2768.9 2141.7C2764.6 2144.1 2758.8 2145.4 2754.8 2146.3C2750.7 2147.1 2747.9 2147.5 2744.7 2146.8C2741.5 2146 2738.1 2144.2 2735.5 2141.7C2733 2139.2 2731 2135.8 2729.5 2131.6C2728 2127.4 2726.9 2121.5 2726.6 2116.4C2726.4 2111.3 2727.1 2106.3 2728 2101.2C2728.8 2096.2 2730.1 2091.1 2731.5 2086C2732.9 2081 2734.7 2075.7 2736.6 2070.9C2738.4 2066 2740.3 2061.2 2742.6 2056.7C2745 2052.1 2747.7 2046.7 2750.7 2043.5C2753.8 2040.3 2757.5 2038.9 2760.9 2037.4C2764.2 2036 2767.6 2034.4 2771 2034.9z"/>
<path fill="none" stroke="#e6141e" stroke-width="3" stroke-linecap="round" d="M2775.2 2082.5A15.2 15.2 0 0 1 2762.6 2106.8"/>
<path d="M2212.8 2237.2L2212.8 1723.3L2706.1 1519.8L3312.3 1684.1L3312.3 2198L2819 2401.5L2212.8 2237.2z" stroke="#000" stroke-width="4.5" fill="none" stroke-linejoin="miter"/>
<path d="M2212.8 2238L2232.2 2230M2212.8 2109.5L2232.2 2101.5M2212.8 1981L2232.2 1973M2212.8 1852.6L2232.2 1844.6M2515.9 2319.3L2536.2 2311M2928.6 2356.3L2908.4 2350.8M3065.7 2299.8L3045.4 2294.3M3202.7 2243.2L3182.4 2237.7" stroke="#000" stroke-width="4.5" fill="none"/>
<text x="2163.3" y="2246.5" text-anchor="end">0</text>
<text x="2163.3" y="2118" text-anchor="end">5</text>
<text x="2163.3" y="1989.5" text-anchor="end">10</text>
<text x="2163.3" y="1861.1" text-anchor="end">15</text>
<text x="2163.3" y="1732.6" text-anchor="end">20</text>
<text x="2182.5" y="2317" transform="rotate(15.4 2182.5 2295)">1480</text>
<text x="2465.1" y="2394.9" transform="rotate(15.4 2465.1 2372.9)">1500</text>
<text x="2761.1" y="2475.4" transform="rotate(15.4 2761.1 2453.4)">1520</text>
<text x="2996.8" y="2419.7" transform="rotate(-22.4 2996.8 2397.7)">−100</text>
<text x="3117.8" y="2375" transform="rotate(-22.4 3117.8 2353)">0</text>
<text x="3259.8" y="2321" transform="rotate(-22.4 3259.8 2299)">100</text>
<text x="2228.3" y="2429.4" transform="rotate(15.4 2228.3 2429.4)" text-anchor="start" textLength="303" lengthAdjust="spacingAndGlyphs">Range (m)</text>
<text x="3152.6" y="2470.2" transform="rotate(-22.4 3152.6 2448.2)" textLength="134" lengthAdjust="spacingAndGlyphs"><tspan font-style="italic">φ</tspan> (°)</text>
<text x="2058.3" y="1964.2" transform="rotate(-90 2058.3 1964.2)" textLength="126" lengthAdjust="spacingAndGlyphs"><tspan font-style="italic">θ</tspan> (°)</text>
<text x="629" y="1266" textLength="76" lengthAdjust="spacingAndGlyphs" text-anchor="start">(a)</text>
<g aria-label="电磁涡旋距离-方位成像结果">
<text x="752" y="1265.2" font-size="64" font-family="'Liberation Serif', 'Noto Serif CJK SC', serif" text-anchor="start" textLength="397" lengthAdjust="spacing">电磁涡旋距离</text>
<text x="1162.9" y="1266" textLength="20" lengthAdjust="spacingAndGlyphs">-</text>
<text x="1176.7" y="1265.2" font-size="64" font-family="'Liberation Serif', 'Noto Serif CJK SC', serif" text-anchor="start" textLength="397" lengthAdjust="spacing">方位成像结果</text>
</g>
<text x="628.5" y="1344.4" textLength="932" lengthAdjust="spacingAndGlyphs" text-anchor="start">(a) Vortex-based range-azimuth</text>
<text x="887.5" y="1422.6" textLength="411" lengthAdjust="spacingAndGlyphs" text-anchor="start">imaging result</text>
<text x="2228" y="1266" textLength="78" lengthAdjust="spacingAndGlyphs" text-anchor="start">(b)</text>
<g aria-label="电磁涡旋干涉三维成像结果">
<text x="2352.3" y="1265.2" font-size="64" font-family="'Liberation Serif', 'Noto Serif CJK SC', serif" text-anchor="start" textLength="796.6" lengthAdjust="spacing">电磁涡旋干涉三维成像结果</text>
</g>
<text x="1949.5" y="1344.4" textLength="1470" lengthAdjust="spacingAndGlyphs" text-anchor="start">(b) Vortex-interferometry-based three-dimensional</text>
<text x="2476.3" y="1422.6" textLength="411" lengthAdjust="spacingAndGlyphs" text-anchor="start">imaging result</text>
<text x="672" y="2699.4" textLength="294" lengthAdjust="spacingAndGlyphs" text-anchor="start">(c) UCCA</text>
<g aria-label="俯仰-方位成像结果">
<text x="967.9" y="2699.6" font-size="64" font-family="'Liberation Serif', 'Noto Serif CJK SC', serif" text-anchor="start" textLength="130.6" lengthAdjust="spacing">俯仰</text>
<text x="1110.2" y="2699.4" textLength="20" lengthAdjust="spacingAndGlyphs">-</text>
<text x="1124.3" y="2699.6" font-size="64" font-family="'Liberation Serif', 'Noto Serif CJK SC', serif" text-anchor="start" textLength="397" lengthAdjust="spacing">方位成像结果</text>
</g>
<text x="583.5" y="2778.4" textLength="1024" lengthAdjust="spacingAndGlyphs" text-anchor="start">(c) UCCA-based elevation-azimuth</text>
<text x="887.5" y="2856.7" textLength="411" lengthAdjust="spacingAndGlyphs" text-anchor="start">imaging result</text>
<text x="2333.5" y="2699.4" textLength="305" lengthAdjust="spacingAndGlyphs" text-anchor="start">(d) UCCA</text>
<g aria-label="三维成像结果">
<text x="2637.2" y="2699.6" font-size="64" font-family="'Liberation Serif', 'Noto Serif CJK SC', serif" text-anchor="start" textLength="397" lengthAdjust="spacing">三维成像结果</text>
</g>
<text x="2172" y="2778.7" textLength="1026" lengthAdjust="spacingAndGlyphs" text-anchor="start">(d) UCCA-based three-dimensional</text>
<text x="2476.5" y="2857.3" textLength="411" lengthAdjust="spacingAndGlyphs" text-anchor="start">imaging result</text>
</svg></body></html>
